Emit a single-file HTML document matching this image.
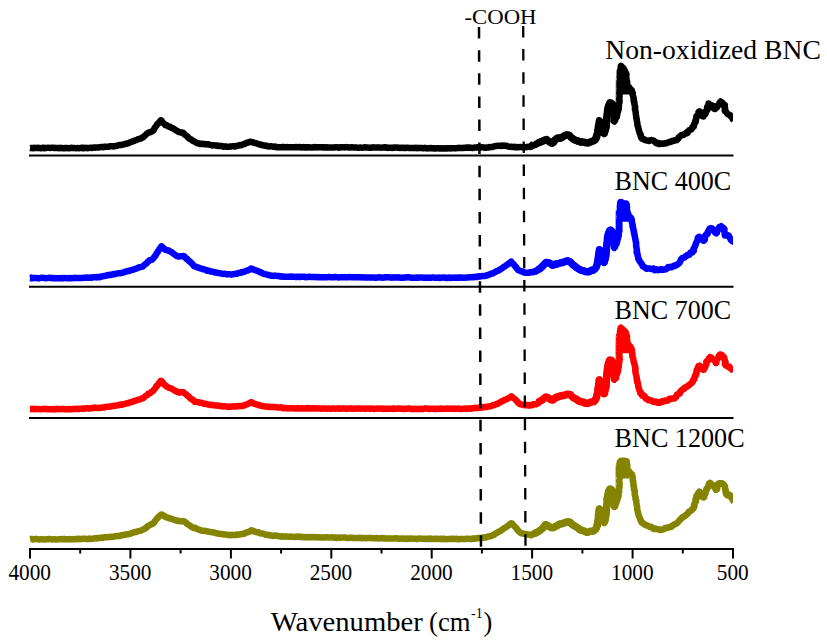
<!DOCTYPE html>
<html><head><meta charset="utf-8"><style>
html,body{margin:0;padding:0;background:#fff;width:827px;height:641px;overflow:hidden}
svg{display:block}
text{font-family:"Liberation Serif",serif;fill:#000}
</style></head><body>
<svg width="827" height="641" viewBox="0 0 827 641">
<defs>
<clipPath id="clip"><rect x="29.5" y="0" width="703.5" height="641"/></clipPath>
<clipPath id="clipfp"><rect x="536" y="0" width="80" height="641"/></clipPath>
</defs>
<rect width="827" height="641" fill="#fff"/>
<line x1="29" y1="155.6" x2="733.5" y2="155.6" stroke="#000" stroke-width="2"/>
<line x1="29" y1="286.8" x2="733.5" y2="286.8" stroke="#000" stroke-width="2"/>
<line x1="29" y1="417.9" x2="733.5" y2="417.9" stroke="#000" stroke-width="2"/>
<line x1="29" y1="549" x2="734" y2="549" stroke="#000" stroke-width="2"/>
<line x1="30.0" y1="548" x2="30.0" y2="558.5" stroke="#000" stroke-width="2"/>
<line x1="130.4" y1="548" x2="130.4" y2="558.5" stroke="#000" stroke-width="2"/>
<line x1="230.9" y1="548" x2="230.9" y2="558.5" stroke="#000" stroke-width="2"/>
<line x1="331.3" y1="548" x2="331.3" y2="558.5" stroke="#000" stroke-width="2"/>
<line x1="431.7" y1="548" x2="431.7" y2="558.5" stroke="#000" stroke-width="2"/>
<line x1="532.1" y1="548" x2="532.1" y2="558.5" stroke="#000" stroke-width="2"/>
<line x1="632.6" y1="548" x2="632.6" y2="558.5" stroke="#000" stroke-width="2"/>
<line x1="733.0" y1="548" x2="733.0" y2="558.5" stroke="#000" stroke-width="2"/>
<line x1="80.2" y1="548" x2="80.2" y2="553.5" stroke="#000" stroke-width="2"/>
<line x1="180.6" y1="548" x2="180.6" y2="553.5" stroke="#000" stroke-width="2"/>
<line x1="281.1" y1="548" x2="281.1" y2="553.5" stroke="#000" stroke-width="2"/>
<line x1="381.5" y1="548" x2="381.5" y2="553.5" stroke="#000" stroke-width="2"/>
<line x1="481.9" y1="548" x2="481.9" y2="553.5" stroke="#000" stroke-width="2"/>
<line x1="582.4" y1="548" x2="582.4" y2="553.5" stroke="#000" stroke-width="2"/>
<line x1="682.8" y1="548" x2="682.8" y2="553.5" stroke="#000" stroke-width="2"/>
<polygon points="619.6,94.5 619.6,76 620.4,68 621,66 623.2,68.4 625,71.5 626.3,74 626.6,80 627.5,85.5 630,88.5 630,94.5" fill="#000"/>
<polyline points="30.0,147.9 30.4,148.0 30.8,148.2 31.2,148.0 31.7,147.9 32.2,148.0 32.8,148.0 33.3,148.2 33.9,148.0 34.5,147.7 35.2,148.0 35.8,148.1 36.5,148.1 37.2,147.9 38.0,147.8 38.7,148.1 39.5,148.0 40.2,148.1 41.0,148.3 41.8,148.0 42.6,147.7 43.4,147.8 44.3,148.2 45.1,148.1 45.9,147.9 46.8,147.9 47.6,147.8 48.4,147.7 49.3,147.9 50.1,148.0 50.9,147.9 51.7,147.8 52.6,147.8 53.4,147.9 54.2,147.9 54.9,147.8 55.7,148.0 56.5,148.1 57.2,148.1 57.9,147.9 58.6,148.1 59.3,148.3 60.0,148.0 60.8,147.8 61.6,148.0 62.4,148.2 63.1,148.2 63.9,148.1 64.7,148.1 65.5,148.2 66.3,148.0 67.0,148.0 67.8,148.2 68.6,148.3 69.3,148.2 70.1,148.1 70.8,147.9 71.6,147.8 72.3,148.1 73.1,148.1 73.8,147.9 74.5,148.0 75.2,148.1 76.0,148.2 76.7,148.1 77.4,148.0 78.1,148.0 78.7,148.2 79.4,148.2 80.1,148.0 80.7,148.0 81.4,147.9 82.0,147.7 82.6,147.9 83.2,148.3 83.8,148.2 84.4,148.0 85.0,147.8 85.9,147.9 86.8,148.1 87.7,148.2 88.5,148.0 89.3,148.0 90.1,147.9 90.8,147.7 91.6,147.9 92.3,147.9 93.0,147.7 93.6,147.5 94.3,147.5 95.0,147.7 95.6,147.5 96.2,147.4 96.9,147.6 97.5,147.6 98.1,147.5 98.7,147.5 99.4,147.4 100.0,147.2 100.8,147.1 101.5,146.9 102.3,147.0 103.0,147.2 103.7,146.9 104.4,146.8 105.1,146.9 105.8,146.8 106.5,146.7 107.1,146.7 107.8,146.8 108.5,146.7 109.2,146.6 109.8,146.4 110.5,146.2 111.2,146.2 112.0,146.2 112.7,146.4 113.4,146.4 114.2,146.2 114.9,146.2 115.6,145.9 116.3,145.8 117.1,145.8 117.8,145.5 118.5,145.1 119.3,145.0 120.0,145.1 120.8,145.1 121.5,144.7 122.2,144.7 122.9,144.7 123.6,144.3 124.3,144.1 125.0,144.1 125.7,143.9 126.4,143.6 127.3,143.5 128.0,143.4 128.7,143.0 129.5,142.7 130.2,142.3 130.9,142.0 131.6,141.9 132.3,141.5 132.9,141.2 133.6,141.1 134.3,141.0 134.8,140.5 135.4,140.3 136.1,140.3 136.9,139.8 137.6,139.3 138.3,139.1 139.0,139.1 139.6,138.9 140.2,138.7 140.8,138.6 141.4,138.2 142.0,137.7 142.6,137.5 143.4,137.2 143.9,136.5 144.4,135.9 145.0,135.4 145.7,134.9 146.3,134.3 146.8,133.8 147.4,133.4 147.9,132.9 148.7,132.4 149.6,132.3 150.4,132.3 151.0,131.8 151.7,131.5 152.4,131.2 153.1,130.7 153.6,130.3 153.9,129.6 154.2,128.9 154.4,128.2 155.0,127.6 155.4,127.0 155.8,126.3 156.4,125.8 156.8,125.2 156.9,124.4 157.6,123.8 158.4,123.3 159.0,122.6 159.6,121.8 160.1,121.1 160.5,120.6 160.8,120.3 161.0,120.3 161.1,120.4 161.5,120.7 161.9,121.1 162.3,121.9 162.9,122.6 163.6,123.2 164.3,123.9 165.0,124.6 165.4,125.1 166.1,125.1 166.8,125.2 167.4,125.6 167.9,126.1 168.6,126.6 169.3,126.7 170.1,126.8 170.7,127.2 171.3,127.7 171.9,128.0 172.6,128.2 173.2,128.5 173.8,129.0 174.5,129.3 175.1,129.8 175.7,130.2 176.4,130.5 177.0,130.8 177.6,131.0 178.0,131.6 178.6,131.8 179.4,132.1 180.1,132.4 180.8,132.5 181.5,132.5 182.2,132.5 182.8,132.6 183.4,133.0 183.9,133.5 184.3,134.0 184.7,134.6 185.4,134.9 186.0,135.4 186.5,136.0 187.2,136.4 187.8,136.8 188.2,137.5 188.7,138.2 189.4,138.7 190.2,139.0 190.9,139.4 191.4,140.0 192.0,140.2 192.9,140.8 193.5,141.2 194.3,141.4 195.1,141.8 195.6,142.3 196.2,142.7 196.8,143.0 197.6,143.2 198.4,143.3 199.2,143.6 200.0,144.0 200.6,143.8 201.2,143.9 201.8,144.0 202.4,143.8 203.1,144.1 203.7,144.1 204.5,143.9 205.2,144.3 206.1,144.4 207.0,144.2 207.6,144.2 208.2,144.3 208.8,144.6 209.5,144.7 210.2,144.8 210.9,145.0 211.6,145.2 212.3,145.5 213.0,145.3 213.8,145.2 214.6,145.4 215.3,145.4 216.1,145.6 216.8,145.7 217.6,145.5 218.3,145.9 219.0,146.1 219.7,146.0 220.4,146.1 221.2,146.1 221.9,146.0 222.6,146.3 223.3,146.7 224.0,146.8 224.8,146.5 225.5,146.3 226.2,146.5 226.9,146.8 227.6,146.8 228.3,146.7 229.0,146.8 229.7,146.6 230.3,146.6 231.0,146.5 231.8,146.4 232.5,146.3 233.3,146.2 234.1,146.4 234.9,146.4 235.6,146.1 236.4,146.1 237.1,146.0 237.8,145.8 238.5,145.4 239.1,145.3 239.8,145.1 240.4,145.2 241.1,145.3 241.9,144.9 242.6,144.4 243.4,144.3 244.1,144.1 244.7,143.9 245.3,143.6 245.8,143.2 246.4,142.9 246.9,142.8 248.0,142.5 249.1,142.2 250.0,141.8 250.7,141.8 251.0,141.8 251.1,141.9 251.5,142.0 252.0,142.2 252.8,142.3 253.7,142.4 254.5,142.9 255.5,143.0 256.4,143.4 257.2,143.6 258.0,143.8 258.6,144.2 259.2,144.4 259.8,144.4 260.5,144.4 261.0,144.6 261.6,145.1 262.3,145.2 263.1,145.3 264.0,145.4 265.0,145.6 265.5,145.7 266.1,145.5 266.7,145.9 267.2,146.2 267.9,146.3 268.5,146.4 269.2,146.4 269.9,146.4 270.6,146.3 271.3,146.3 272.1,146.4 272.8,146.6 273.5,146.8 274.3,146.8 275.1,146.6 275.9,146.9 276.7,147.3 277.5,147.2 278.3,147.1 279.2,147.3 280.0,147.3 280.6,147.2 281.1,147.2 281.5,147.1 281.9,147.0 282.2,147.2 282.5,147.3 282.8,147.3 283.0,147.2 283.3,147.1 283.5,147.1 283.7,147.0 284.0,147.1 284.3,147.3 284.7,147.3 285.1,147.2 285.6,147.3 286.1,147.2 286.7,147.0 287.5,147.1 288.3,147.2 289.3,147.3 290.3,147.2 291.5,147.2 292.9,147.3 294.4,147.2 296.1,147.1 298.0,147.2 300.0,147.1 300.4,147.1 300.9,147.2 301.3,147.4 301.8,147.5 302.2,147.3 302.7,147.2 303.2,147.1 303.7,146.9 304.2,147.1 304.7,147.4 305.3,147.2 305.8,147.2 306.4,147.5 306.9,147.3 307.5,147.2 308.1,147.4 308.6,147.3 309.2,147.3 309.8,147.4 310.4,147.4 311.1,147.4 311.7,147.5 312.3,147.6 312.9,147.4 313.6,147.2 314.2,147.1 314.9,147.1 315.6,147.2 316.2,147.4 316.9,147.2 317.6,147.2 318.3,147.4 319.0,147.3 319.7,147.2 320.4,147.2 321.1,147.2 321.9,147.2 322.6,147.3 323.3,147.6 324.1,147.5 324.8,147.3 325.6,147.4 326.3,147.6 327.1,147.3 327.8,147.3 328.6,147.5 329.4,147.5 330.1,147.5 330.9,147.4 331.7,147.5 332.5,147.6 333.3,147.5 334.1,147.4 334.9,147.4 335.7,147.2 336.5,147.2 337.3,147.2 338.1,147.4 338.9,147.7 339.7,147.4 340.5,147.3 341.3,147.4 342.2,147.2 343.0,147.2 343.8,147.2 344.6,147.4 345.4,147.3 346.3,147.1 347.1,147.3 347.9,147.2 348.8,147.3 349.6,147.5 350.4,147.6 351.2,147.4 352.1,147.2 352.9,147.4 353.7,147.4 354.5,147.4 355.4,147.4 356.2,147.4 357.0,147.6 357.8,147.7 358.7,147.7 359.5,147.6 360.3,147.5 361.1,147.6 362.0,147.7 362.8,147.6 363.6,147.5 364.4,147.4 365.2,147.3 366.0,147.5 366.8,147.5 367.6,147.5 368.4,147.6 369.2,147.7 370.0,147.8 370.8,147.8 371.6,147.6 372.4,147.4 373.1,147.6 373.9,147.5 374.7,147.5 375.4,147.5 376.2,147.5 377.0,147.4 377.7,147.4 378.5,147.5 379.2,147.5 379.9,147.5 380.7,147.6 381.4,147.7 382.1,147.6 382.8,147.6 383.6,147.6 384.3,147.4 385.0,147.3 385.7,147.3 386.3,147.6 387.0,147.8 387.7,147.9 388.4,147.7 389.0,147.8 389.7,147.8 390.3,147.7 390.9,147.7 391.6,147.7 392.2,147.9 392.8,147.7 393.4,147.5 394.0,147.6 394.6,147.7 395.2,147.6 395.8,147.4 396.3,147.5 396.9,147.6 397.4,147.6 397.9,147.8 398.5,147.8 399.0,147.8 399.5,147.9 400.0,147.9 401.2,147.8 402.4,147.8 403.5,147.9 404.6,147.8 405.7,147.9 406.8,147.8 407.8,147.8 408.8,147.9 409.8,148.0 410.7,148.1 411.6,148.1 412.5,148.1 413.4,148.1 414.2,148.0 415.1,147.9 415.9,147.8 416.6,147.9 417.4,148.2 418.1,148.1 418.9,147.9 419.6,148.0 420.3,148.1 420.9,148.0 421.6,147.9 422.2,147.9 422.9,148.2 423.5,148.2 424.1,148.0 424.7,148.1 425.3,148.0 425.8,148.0 426.4,148.3 426.9,148.4 427.5,148.2 428.0,148.3 428.6,148.3 429.1,148.2 429.6,148.1 430.2,148.3 430.7,148.3 431.2,148.1 431.7,148.3 432.2,148.4 432.8,148.3 433.3,148.3 433.8,148.4 434.3,148.3 434.9,148.3 435.4,148.5 436.0,148.6 436.5,148.4 437.1,148.3 437.6,148.3 438.2,148.3 438.8,148.3 439.4,148.4 440.0,148.6 440.8,148.5 441.7,148.2 442.5,148.5 443.3,148.6 444.2,148.6 445.0,148.3 445.8,148.3 446.6,148.5 447.5,148.3 448.3,148.2 449.1,148.4 449.9,148.5 450.7,148.3 451.5,148.2 452.3,148.2 453.1,148.3 453.8,148.3 454.6,148.3 455.4,148.4 456.1,148.3 456.9,148.1 457.6,148.0 458.3,148.0 459.1,147.8 459.8,148.0 460.5,148.0 461.2,148.0 461.9,148.0 462.5,147.9 463.2,148.1 463.8,147.9 464.4,147.7 465.1,147.7 465.7,147.8 466.3,147.7 466.8,147.5 467.4,147.5 468.0,147.6 468.5,147.9 469.0,147.8 469.5,147.5 470.0,147.6 471.3,147.8 472.5,147.9 473.5,147.8 474.4,147.6 475.1,147.6 475.8,147.5 476.4,147.4 476.9,147.4 477.4,147.3 477.9,147.4 478.3,147.4 478.8,147.3 479.4,147.2 480.0,147.4 480.8,147.5 481.6,147.4 482.3,147.3 483.1,147.4 483.8,147.5 484.5,147.4 485.2,147.7 485.9,147.8 486.6,147.5 487.3,147.4 488.0,147.6 488.7,147.4 489.4,147.1 490.1,147.1 490.9,147.2 491.6,147.0 492.3,146.9 493.0,146.9 493.6,146.5 494.3,146.4 495.0,146.3 495.7,145.9 496.4,146.0 497.1,145.9 497.8,145.8 498.5,145.7 499.2,145.7 499.9,145.9 500.6,146.0 501.3,145.7 502.0,145.4 502.8,145.7 503.5,145.7 504.2,145.6 504.9,145.7 505.6,145.7 506.4,145.8 507.1,146.1 507.8,146.4 508.5,146.6 509.2,146.7 510.0,146.8 510.7,146.7 511.4,146.8 512.1,147.1 512.9,147.1 513.6,146.9 514.3,146.8 515.0,147.1 515.7,147.3 516.5,147.1 517.2,147.1 517.9,147.2 518.6,147.2 519.3,147.1 520.0,147.0 520.8,147.1 521.5,147.1 522.2,147.2 523.0,147.3 523.7,147.2 524.5,147.3 525.2,147.3 525.9,147.2 526.6,147.1 527.2,146.9 528.0,146.9 528.7,146.7 529.4,146.5 530.3,147.0 530.9,146.8 531.4,145.9 531.9,145.0 532.8,145.5 533.6,145.5 534.1,144.9 535.0,145.0 535.5,144.4 536.1,143.7 536.9,143.7 537.4,143.0 538.1,142.7 538.9,142.8 539.7,142.9 540.0,142.1 540.8,141.4 541.6,141.2 542.3,141.2 542.9,140.9 543.3,140.1 544.1,140.0 545.1,140.1 545.8,139.8 546.6,139.2 547.1,139.9 547.3,140.8 547.8,141.3 548.7,141.5 549.5,141.6 550.3,142.1 550.9,142.7 551.6,143.1 552.2,142.9 552.9,143.0 553.8,142.7 554.2,141.9 554.0,140.8 554.5,140.1 555.3,139.8 556.2,139.4 557.0,139.1 557.6,138.6 558.2,138.4 558.8,138.0 559.5,138.3 560.3,138.6 561.0,138.0 561.5,137.1 562.3,136.7 563.2,136.5 563.8,135.8 564.5,135.3 565.4,135.3 566.0,134.8 566.8,134.8 567.6,135.2 568.3,134.9 569.2,134.9 569.7,135.4 570.3,136.0 570.6,136.8 571.0,137.6 571.7,137.9 572.5,138.2 572.8,138.9 573.3,139.5 574.2,139.4 575.0,139.5 575.5,140.3 576.1,140.8 576.9,140.9 577.5,141.5 578.2,141.8 579.0,141.9 579.7,142.1 580.5,142.5 581.3,142.5 582.1,142.0 582.9,141.8 583.6,142.2 584.3,142.7 584.9,143.0 585.7,142.9 586.4,143.1 587.2,143.0 587.9,143.2 588.8,143.2 589.4,142.5 590.0,142.0 590.9,142.2 591.7,142.0 592.2,141.1 592.8,140.6 593.6,140.7 594.5,140.6 595.2,140.2 595.6,139.4 595.7,138.3 596.4,138.0 596.3,137.3 595.9,136.5 596.6,136.0 596.9,135.3 596.7,134.4 596.9,133.7 597.5,133.0 597.9,132.4 597.5,131.6 597.2,130.8 598.0,130.2 598.6,129.5 598.1,128.7 598.4,128.0 598.3,127.3 598.0,126.6 598.8,126.0 599.2,125.1 598.9,124.1 599.2,123.1 599.6,122.3 599.7,121.5 600.0,121.1 599.3,121.1 599.4,121.0 599.4,121.6 599.4,122.4 599.4,123.4 599.9,124.3 600.1,125.1 600.1,125.8 600.7,126.4 601.6,127.0 601.4,127.8 601.1,128.7 601.5,129.3 602.0,129.9 602.3,130.5 602.4,131.5 602.7,132.5 603.4,133.1 604.3,133.1 604.2,133.4 604.5,133.5 604.1,132.9 604.2,132.4 604.8,131.9 604.8,131.0 604.6,129.9 605.1,129.0 606.0,128.0 606.4,127.5 606.6,126.9 606.5,126.2 606.2,125.5 606.3,124.8 606.3,124.0 606.4,123.2 606.7,122.5 607.2,121.7 606.9,120.9 606.6,120.1 606.6,119.3 606.4,118.5 606.6,117.8 607.0,117.1 607.1,116.4 607.5,115.8 607.2,114.9 607.0,114.0 607.8,113.3 608.0,112.5 607.7,111.7 607.4,111.0 607.4,110.3 608.0,109.7 608.5,109.1 608.4,108.5 608.5,107.9 609.0,107.1 609.2,106.1 609.1,105.0 609.2,104.0 609.8,103.5 610.0,103.0 609.9,102.9 610.5,103.1 611.6,103.2 612.2,103.9 612.9,104.7 613.2,105.1 613.0,105.4 613.4,105.8 613.7,106.3 613.6,107.1 613.1,108.1 612.9,109.1 613.6,110.0 613.3,111.0 613.5,112.0 614.0,112.8 613.7,113.6 613.6,114.5 614.0,115.4 614.0,116.4 614.0,117.4 614.2,118.4 614.2,119.2 614.1,120.0 613.9,120.6 614.8,120.9 614.2,120.4 614.8,120.8 615.2,120.3 614.8,119.1 615.2,118.2 616.0,117.4 616.8,117.0 616.9,116.3 616.9,115.6 617.2,114.9 617.2,114.0 617.3,113.2 617.8,112.4 618.0,111.5 618.0,110.9 618.0,110.4 618.3,109.9 618.7,109.5 618.5,108.9 618.5,108.3 618.8,107.7 618.9,107.0 618.9,106.2 618.9,105.3 619.0,104.2 619.2,103.0 619.4,102.5 619.6,101.9 619.6,101.4 619.6,100.7 619.3,100.1 619.2,99.4 619.5,98.7 619.4,98.0 619.4,97.2 619.6,96.4 619.5,95.7 619.5,94.9 619.5,94.1 619.3,93.2 619.6,92.4 619.5,91.6 619.4,90.8 619.5,89.9 619.6,89.1 619.9,88.3 619.6,87.5 619.4,86.7 619.7,85.9 619.7,85.2 619.4,84.4 619.5,83.7 619.6,83.0 619.5,82.4 619.4,81.7 619.6,81.1 619.8,80.5 619.8,80.0 620.0,78.9 619.8,77.8 619.6,76.9 619.7,76.0 619.9,75.2 620.1,74.5 619.9,73.8 619.7,73.2 620.0,72.6 620.1,72.0 619.9,71.5 619.8,71.0 620.1,70.5 620.3,70.0 620.6,68.7 620.8,67.6 620.8,66.8 620.8,66.2 621.0,65.8 621.3,66.1 621.9,66.8 622.6,67.5 623.4,68.1 623.7,68.7 624.0,69.4 624.4,70.0 624.7,70.7 625.1,71.3 625.3,71.9 625.5,72.6 625.9,73.1 626.4,74.0 626.5,74.6 626.3,75.3 626.3,76.0 626.2,76.8 626.2,77.7 626.4,78.5 626.6,79.2 626.7,80.0 626.9,80.8 627.1,81.7 627.1,82.5 627.2,83.3 627.3,84.1 627.2,84.9 627.4,85.5 627.8,86.3 628.4,86.8 629.1,87.2 629.6,87.8 629.9,88.6 630.4,89.2 631.1,89.7 631.8,90.3 632.1,91.1 632.2,92.0 632.5,92.6 632.8,93.1 632.7,93.8 632.5,94.5 632.8,95.3 633.1,96.1 633.2,97.0 633.5,97.5 633.6,98.1 633.7,98.7 633.8,99.4 633.7,100.1 633.6,100.8 634.0,101.5 634.4,102.2 634.2,102.9 634.3,103.7 634.6,104.4 634.6,105.2 634.9,106.0 635.1,106.6 635.1,107.3 635.1,108.0 634.9,108.8 634.9,109.5 635.3,110.2 635.4,110.9 635.5,111.7 635.7,112.4 635.8,113.2 635.8,113.9 635.9,114.7 636.1,115.5 636.1,116.3 636.2,117.0 636.3,117.7 636.4,118.4 636.6,119.2 636.8,119.9 636.8,120.7 637.0,121.4 637.1,122.2 637.3,122.9 637.4,123.7 637.4,124.5 637.4,125.2 637.7,125.9 638.1,126.6 638.2,127.3 638.3,128.0 638.6,128.6 638.6,129.3 638.7,130.1 639.0,130.9 639.3,131.6 639.4,132.4 639.6,133.1 639.9,133.8 640.5,134.3 640.8,134.9 640.6,135.7 640.7,136.4 641.1,136.9 641.2,137.5 641.4,138.1 642.1,138.7 643.1,138.8 643.9,138.9 644.2,139.7 645.0,139.8 645.6,140.2 646.2,140.4 646.9,140.5 647.6,140.7 648.4,140.6 649.2,141.0 649.8,140.4 650.6,140.3 651.3,140.0 652.0,140.1 652.5,140.5 653.3,140.5 654.0,140.8 654.5,141.4 655.1,142.0 655.7,142.4 656.2,143.2 657.1,143.5 657.9,142.9 658.4,143.3 659.1,144.1 659.8,143.9 660.5,143.4 661.3,143.4 662.1,143.8 662.8,143.7 663.6,143.5 664.4,143.6 665.1,143.2 665.8,143.4 666.6,143.3 667.3,142.9 667.9,142.5 668.6,142.2 669.4,142.0 670.2,142.1 670.9,141.8 671.4,141.1 672.1,141.0 672.8,140.8 673.6,140.9 674.2,140.8 674.8,140.2 675.8,140.3 676.8,140.3 677.2,139.5 677.7,138.9 678.4,138.5 678.6,137.6 679.2,137.1 679.7,136.7 680.2,136.1 680.9,135.7 681.5,135.0 682.4,134.9 683.4,135.1 683.9,134.4 684.6,134.0 685.3,133.7 685.8,133.1 686.7,133.3 687.5,132.9 687.7,131.7 688.1,131.0 688.8,130.8 689.3,130.2 690.1,130.1 690.7,129.7 691.2,129.2 691.8,128.9 692.2,128.3 692.3,127.4 692.8,126.9 693.8,126.6 693.7,125.8 693.7,125.1 694.3,124.5 694.3,123.6 694.7,122.9 695.6,122.2 695.2,121.4 695.4,120.7 695.9,120.1 696.1,119.3 696.1,118.5 696.3,117.7 696.5,117.0 696.4,116.2 697.3,115.7 697.8,115.2 697.9,114.7 698.2,113.5 698.4,112.5 698.9,111.8 699.5,111.4 699.4,111.5 699.6,111.3 700.2,111.6 700.4,112.6 700.9,113.5 701.3,114.7 701.7,115.7 702.8,116.1 703.5,116.4 703.4,116.3 702.7,116.3 702.9,115.8 703.4,115.3 704.4,114.8 705.3,114.1 705.8,113.1 705.9,112.0 705.6,111.2 706.4,110.7 707.3,110.1 707.6,109.2 707.2,108.0 707.1,107.0 707.9,106.3 708.5,105.6 708.9,105.1 708.9,104.5 708.6,104.0 708.6,103.4 709.1,103.8 709.7,104.8 710.5,105.2 711.5,105.4 712.3,105.5 713.2,105.9 713.5,106.9 713.6,108.1 713.9,108.8 714.8,108.9 715.0,108.8 715.2,108.9 715.4,108.3 716.1,107.8 717.0,107.3 717.5,106.5 717.8,105.7 718.2,105.1 718.8,104.4 719.2,103.6 719.5,102.7 720.2,102.3 720.4,101.8 720.6,101.5 720.8,101.8 721.5,102.1 722.2,102.7 723.0,103.3 723.4,104.2 723.8,104.7 724.8,105.1 724.4,106.1 724.3,106.9 725.0,107.7 725.1,108.5 725.0,109.3 724.7,110.2 725.0,111.1 725.9,111.6 726.4,112.2 726.7,112.9 727.1,113.5 727.6,113.9 728.3,114.2 728.8,114.4 729.4,114.8 730.2,115.2 730.4,115.9 730.9,116.5 731.9,116.7 732.3,117.4 732.5,118.4 732.8,119.1 733.4,119.4 733.8,119.7" fill="none" stroke="#000" stroke-width="6.5" stroke-linejoin="round" clip-path="url(#clip)"/>
<path d="M30.00,148.00 C35.00,148.00 50.83,148.00 60.00,148.00 C69.17,148.00 78.33,148.13 85.00,148.00 C91.67,147.87 95.50,147.48 100.00,147.20 C104.50,146.92 107.83,146.80 112.00,146.30 C116.17,145.80 121.00,145.22 125.00,144.20 C129.00,143.18 133.17,141.27 136.00,140.20 C138.83,139.13 140.00,139.00 142.00,137.80 C144.00,136.60 146.17,134.20 148.00,133.00 C149.83,131.80 151.50,132.02 153.00,130.60 C154.50,129.18 155.67,126.22 157.00,124.50 C158.33,122.78 161.00,120.30 161.00,120.30 C161.00,120.30 163.07,123.20 165.00,124.50 C166.93,125.80 170.33,126.88 172.60,128.10 C174.87,129.32 176.80,130.98 178.60,131.80 C180.40,132.62 182.00,132.20 183.40,133.00 C184.80,133.80 185.57,135.40 187.00,136.60 C188.43,137.80 190.67,139.30 192.00,140.20 C193.33,141.10 193.67,141.40 195.00,142.00 C196.33,142.60 198.00,143.40 200.00,143.80 C202.00,144.20 203.83,144.03 207.00,144.40 C210.17,144.77 215.00,145.63 219.00,146.00 C223.00,146.37 227.33,146.77 231.00,146.60 C234.67,146.43 238.33,145.60 241.00,145.00 C243.67,144.40 245.33,143.53 247.00,143.00 C248.67,142.47 251.00,141.80 251.00,141.80 C251.00,141.80 255.67,143.17 258.00,143.80 C260.33,144.43 261.33,145.03 265.00,145.60 C268.67,146.17 274.17,146.93 280.00,147.20 C285.83,147.47 280.00,147.12 300.00,147.20 C320.00,147.28 376.67,147.50 400.00,147.70 C423.33,147.90 428.33,148.40 440.00,148.40 C451.67,148.40 463.33,147.87 470.00,147.70 C476.67,147.53 477.00,147.45 480.00,147.40 C483.00,147.35 485.38,147.60 488.00,147.40 C490.62,147.20 493.23,146.48 495.70,146.20 C498.17,145.92 500.18,145.60 502.80,145.70 C505.42,145.80 508.65,146.55 511.40,146.80 C514.15,147.05 516.67,147.18 519.30,147.20 C521.93,147.22 524.83,147.22 527.20,146.90 C529.57,146.58 531.37,146.08 533.50,145.30 C535.63,144.52 538.32,142.95 540.00,142.20 C541.68,141.45 542.52,141.22 543.60,140.80 C544.68,140.38 545.53,139.53 546.50,139.70 C547.47,139.87 548.43,141.22 549.40,141.80 C550.37,142.38 551.33,143.55 552.30,143.20 C553.27,142.85 554.23,140.58 555.20,139.70 C556.17,138.82 557.13,138.20 558.10,137.90 C559.07,137.60 560.02,138.20 561.00,137.90 C561.98,137.60 563.03,136.60 564.00,136.10 C564.97,135.60 565.97,135.05 566.80,134.90 C567.63,134.75 568.27,134.78 569.00,135.20 C569.73,135.62 570.35,136.65 571.20,137.40 C572.05,138.15 573.02,139.13 574.10,139.70 C575.18,140.27 576.48,140.43 577.70,140.80 C578.92,141.17 580.18,141.65 581.40,141.90 C582.62,142.15 583.92,142.13 585.00,142.30 C586.08,142.47 586.93,142.98 587.90,142.90 C588.87,142.82 589.83,142.15 590.80,141.80 C591.77,141.45 592.83,141.35 593.70,140.80 C594.57,140.25 595.35,139.80 596.00,138.50 C596.65,137.20 597.17,135.08 597.60,133.00 C598.03,130.92 598.30,128.03 598.60,126.00 C598.90,123.97 599.40,120.80 599.40,120.80 C599.40,120.80 600.13,123.38 600.60,125.00 C601.07,126.62 601.60,129.08 602.20,130.50 C602.80,131.92 604.20,133.50 604.20,133.50 C604.20,133.50 605.33,130.95 605.80,128.00 C606.27,125.05 606.63,119.17 607.00,115.80 C607.37,112.43 607.52,109.97 608.00,107.80 C608.48,105.63 609.90,102.80 609.90,102.80 C609.90,102.80 611.02,102.88 611.50,103.30 C611.98,103.72 612.80,105.30 612.80,105.30 C612.80,105.30 613.50,110.18 613.80,112.80 C614.10,115.42 614.60,121.00 614.60,121.00 C614.60,121.00 615.67,119.08 616.20,117.50 C616.73,115.92 617.28,113.92 617.80,111.50 C618.32,109.08 619.00,108.25 619.30,103.00 C619.60,97.75 619.45,85.50 619.60,80.00 C619.75,74.50 619.97,72.33 620.20,70.00 C620.43,67.67 621.00,66.00 621.00,66.00 C621.00,66.00 622.53,67.32 623.20,68.20 C623.87,69.08 624.50,70.33 625.00,71.30 C625.50,72.27 625.93,72.55 626.20,74.00 C626.47,75.45 626.38,78.08 626.60,80.00 C626.82,81.92 626.93,84.08 627.50,85.50 C628.07,86.92 629.22,87.42 630.00,88.50 C630.78,89.58 631.67,90.58 632.20,92.00 C632.73,93.42 632.80,94.67 633.20,97.00 C633.60,99.33 634.07,102.67 634.60,106.00 C635.13,109.33 635.75,113.12 636.40,117.00 C637.05,120.88 637.60,125.83 638.50,129.30 C639.40,132.77 640.40,135.93 641.80,137.80 C643.20,139.67 645.20,140.12 646.90,140.50 C648.60,140.88 650.28,139.67 652.00,140.10 C653.72,140.53 654.90,142.60 657.20,143.10 C659.50,143.60 662.95,143.47 665.80,143.10 C668.65,142.73 671.88,142.05 674.30,140.90 C676.72,139.75 678.28,137.55 680.30,136.20 C682.32,134.85 684.78,133.83 686.40,132.80 C688.02,131.77 688.90,130.97 690.00,130.00 C691.10,129.03 692.17,128.33 693.00,127.00 C693.83,125.67 694.25,124.08 695.00,122.00 C695.75,119.92 696.77,116.32 697.50,114.50 C698.23,112.68 699.40,111.10 699.40,111.10 C699.40,111.10 703.30,116.80 703.30,116.80 C703.30,116.80 704.90,114.15 705.80,112.00 C706.70,109.85 708.70,103.90 708.70,103.90 C708.70,103.90 710.75,104.15 711.80,105.00 C712.85,105.85 715.00,109.00 715.00,109.00 C715.00,109.00 716.57,106.72 717.50,105.50 C718.43,104.28 720.60,101.70 720.60,101.70 C720.60,101.70 722.93,102.62 723.70,104.00 C724.47,105.38 724.57,108.33 725.20,110.00 C725.83,111.67 726.70,113.08 727.50,114.00 C728.30,114.92 728.92,114.58 730.00,115.50 C731.08,116.42 733.33,118.83 734.00,119.50" fill="none" stroke="#000" stroke-width="7.4" stroke-linejoin="round" clip-path="url(#clipfp)"/>
<polygon points="619.4,221.8 619.4,208 620.9,202 626.2,203.5 627.2,208 627.5,213 629.5,216.5 629.5,221.8" fill="#0000ff"/>
<polyline points="30.0,278.2 30.4,278.3 30.8,278.0 31.2,277.7 31.6,278.0 32.1,278.2 32.6,278.1 33.1,278.0 33.6,278.0 34.2,278.1 34.8,278.1 35.4,277.9 36.0,277.9 36.7,278.0 37.3,278.1 38.0,278.3 38.7,278.4 39.4,278.2 40.1,278.0 40.8,277.9 41.6,277.8 42.3,277.7 43.1,277.9 43.9,278.0 44.7,277.9 45.5,278.1 46.3,278.2 47.1,278.1 47.9,278.0 48.7,277.8 49.6,277.8 50.4,277.9 51.2,277.9 52.1,278.2 52.9,278.3 53.7,278.0 54.6,278.1 55.4,278.3 56.2,278.2 57.1,278.3 57.9,278.3 58.7,278.3 59.5,278.1 60.3,278.2 61.2,278.4 62.0,278.1 62.7,278.0 63.5,278.2 64.3,278.1 65.0,278.0 65.8,278.1 66.5,278.2 67.2,278.2 68.0,278.2 68.6,278.1 69.3,278.1 70.0,278.3 70.6,278.1 71.2,278.0 71.9,278.2 72.4,278.2 73.0,278.1 74.0,277.9 74.9,277.8 75.8,278.0 76.8,277.9 77.7,277.9 78.6,278.0 79.4,277.9 80.3,277.9 81.2,277.9 82.0,278.0 82.8,277.9 83.6,277.8 84.4,277.8 85.2,277.8 85.9,277.7 86.7,277.5 87.4,277.5 88.1,277.8 88.8,277.8 89.5,277.4 90.2,277.5 90.8,277.7 91.5,277.7 92.1,277.5 92.6,277.4 93.2,277.3 93.8,277.3 94.3,277.3 94.8,277.1 95.3,277.3 95.8,277.3 96.2,277.1 96.7,277.4 97.1,277.3 97.5,277.0 99.7,277.2 99.5,277.2 100.0,276.9 100.5,276.7 101.1,276.5 101.8,276.4 102.7,276.3 103.5,276.1 104.4,276.1 105.2,275.9 106.1,275.6 106.9,275.4 107.7,275.1 108.5,275.2 109.1,275.1 109.6,274.8 110.6,274.8 110.7,274.9 112.0,274.5 112.5,274.6 113.0,274.6 113.5,274.1 114.2,274.1 114.9,274.1 115.6,274.1 116.3,273.8 117.1,273.5 117.8,273.3 118.7,273.2 119.5,273.2 120.4,273.2 121.2,273.0 122.0,272.9 122.8,272.7 123.5,272.5 124.2,272.2 124.9,271.8 125.6,271.7 126.4,271.5 127.1,271.1 127.9,271.0 128.7,271.1 129.4,270.7 130.2,270.4 130.9,270.3 131.7,270.1 132.4,269.8 133.1,269.7 133.8,269.6 134.4,269.2 135.1,269.1 135.7,268.7 136.3,268.6 137.1,268.3 137.8,267.9 138.6,267.6 139.3,267.4 139.9,267.1 140.6,267.0 141.3,266.9 141.9,266.8 142.5,266.6 143.1,266.3 143.5,265.8 144.1,265.2 144.7,264.7 145.3,264.3 145.9,263.8 146.5,263.4 147.0,262.9 147.4,262.3 147.8,261.7 148.4,261.4 149.0,260.8 149.6,260.3 150.4,260.2 151.1,260.0 151.8,259.7 152.5,259.3 153.0,258.5 153.4,258.1 153.8,257.6 154.3,257.0 154.8,256.4 155.3,255.8 155.6,255.0 156.1,254.4 156.4,253.7 156.9,253.0 157.5,252.5 157.8,251.9 158.0,251.2 158.6,250.4 159.2,249.6 159.7,248.7 160.2,247.9 160.9,247.3 161.2,246.7 161.4,246.3 161.7,246.3 161.8,246.5 162.4,246.9 162.9,247.7 163.6,248.5 164.6,249.0 165.2,249.7 165.9,250.0 166.6,249.9 167.2,250.2 167.8,250.4 168.6,250.5 169.3,251.0 170.0,251.6 170.7,251.6 171.3,251.9 171.8,252.5 172.4,252.9 173.1,253.3 173.7,253.9 174.4,254.3 175.1,254.7 175.7,255.2 176.2,255.7 176.8,256.0 177.4,256.1 178.2,256.4 179.0,256.4 179.8,256.4 180.6,256.3 181.4,256.3 182.1,256.2 182.8,255.9 183.5,255.9 184.2,256.2 184.7,256.8 185.2,257.4 185.6,258.0 186.2,258.6 187.1,258.9 187.6,259.4 187.9,260.0 188.5,260.6 189.1,261.0 189.8,261.5 190.4,262.0 190.8,262.6 191.4,263.1 191.9,263.4 192.5,264.1 192.9,264.7 193.3,265.3 193.7,265.8 194.2,266.2 195.0,266.4 195.7,266.6 196.3,266.9 196.9,267.1 197.6,267.3 198.4,267.6 199.1,268.0 199.9,268.3 200.6,268.4 201.2,268.5 201.9,268.6 202.4,269.1 203.0,269.2 203.8,269.3 204.5,269.5 205.3,269.6 206.1,270.1 206.9,270.7 207.5,270.8 208.2,270.6 208.9,270.7 209.5,270.9 210.2,271.2 210.8,271.5 211.6,271.6 212.3,271.7 213.1,271.8 213.8,272.0 214.5,272.4 215.3,272.6 216.1,272.5 216.8,272.6 217.5,272.9 218.3,273.0 219.0,273.2 219.7,273.3 220.4,273.4 221.1,273.5 221.8,273.7 222.5,273.9 223.2,273.9 223.9,273.8 224.6,273.8 225.3,273.9 226.0,274.0 226.7,274.4 227.4,274.3 228.2,274.2 228.9,274.3 229.6,274.3 230.3,274.4 231.0,274.5 231.7,274.5 232.4,274.3 233.1,274.3 233.8,274.1 234.5,273.9 235.3,273.9 236.0,273.8 236.8,273.7 237.5,273.4 238.2,273.1 238.9,273.0 239.6,272.8 240.3,272.9 241.0,272.7 241.6,272.2 242.2,272.0 242.8,272.0 243.5,272.0 244.3,271.7 245.2,271.4 246.0,270.8 246.9,270.5 247.9,270.4 248.6,270.0 249.4,269.7 250.0,269.5 250.5,269.0 250.8,268.7 251.2,268.8 251.2,268.6 251.3,268.6 251.6,268.9 252.2,268.9 252.8,269.2 253.5,269.5 254.4,269.7 255.2,270.2 256.2,270.4 257.1,270.8 257.9,271.2 258.5,271.3 259.1,271.7 259.7,272.0 260.5,272.0 261.1,272.4 261.7,272.9 262.4,273.3 263.1,273.6 263.8,273.8 264.6,274.0 265.3,274.2 266.1,274.4 266.9,274.6 267.6,274.7 268.3,274.7 268.9,275.1 269.5,275.3 270.2,275.4 270.8,275.7 271.5,275.6 272.2,275.7 272.9,275.9 273.6,276.0 274.3,275.8 275.0,275.6 275.8,275.8 276.5,275.9 277.3,276.0 278.0,275.9 278.8,276.0 279.6,276.4 280.1,276.4 280.6,276.2 280.9,276.3 281.2,276.3 281.3,276.5 281.5,276.5 281.6,276.4 281.7,276.5 281.9,276.5 282.0,276.7 282.3,276.5 282.6,276.5 283.1,276.6 283.6,276.6 284.3,276.8 285.2,276.8 286.2,276.7 287.5,276.8 289.0,276.7 290.7,276.6 292.7,276.8 295.0,276.8 295.4,276.9 295.8,277.0 296.3,277.0 296.7,276.8 297.2,276.7 297.6,276.7 298.1,276.7 298.6,276.7 299.1,276.9 299.6,276.9 300.1,276.8 300.6,276.9 301.1,276.8 301.7,276.8 302.2,276.7 302.8,276.7 303.3,276.8 303.9,276.8 304.5,276.8 305.0,277.0 305.6,277.2 306.2,277.0 306.8,277.0 307.4,277.1 308.1,277.0 308.7,276.7 309.3,276.7 309.9,276.8 310.6,276.9 311.2,277.0 311.9,276.9 312.6,277.0 313.2,277.0 313.9,277.0 314.6,277.2 315.3,277.0 316.0,277.1 316.7,277.1 317.4,277.1 318.1,277.3 318.8,277.2 319.5,277.1 320.2,277.3 320.9,277.3 321.7,277.2 322.4,277.3 323.1,277.4 323.9,277.3 324.6,277.3 325.4,277.2 326.1,277.1 326.9,277.2 327.7,277.1 328.4,277.0 329.2,277.0 330.0,277.2 330.7,277.2 331.5,277.1 332.3,277.3 333.1,277.2 333.8,277.2 334.6,277.2 335.4,276.9 336.2,277.0 337.0,277.1 337.8,277.3 338.6,277.5 339.4,277.4 340.2,277.3 341.0,277.2 341.8,277.1 342.6,277.2 343.4,277.3 344.2,277.1 345.0,277.2 345.8,277.2 346.6,277.1 347.4,277.3 348.2,277.3 349.0,277.0 349.8,277.0 350.6,277.1 351.4,277.2 352.2,277.2 353.0,277.2 353.8,277.2 354.6,277.1 355.4,277.3 356.2,277.3 357.0,277.2 357.8,277.4 358.6,277.3 359.4,277.1 360.2,277.3 361.0,277.4 361.8,277.4 362.6,277.3 363.3,277.2 364.1,277.5 364.9,277.4 365.7,277.4 366.4,277.5 367.2,277.4 368.0,277.5 368.7,277.5 369.5,277.4 370.3,277.4 371.0,277.4 371.8,277.5 372.5,277.6 373.2,277.5 374.0,277.5 374.7,277.6 375.4,277.8 376.2,277.7 376.9,277.5 377.6,277.4 378.3,277.4 379.0,277.3 379.7,277.2 380.4,277.5 381.1,277.5 381.8,277.5 382.4,277.7 383.1,277.7 383.8,277.5 384.4,277.3 385.1,277.5 385.7,277.4 386.4,277.2 387.0,277.3 387.8,277.3 388.6,277.3 389.4,277.4 390.2,277.4 391.0,277.5 391.8,277.7 392.6,277.4 393.4,277.5 394.2,277.6 395.0,277.4 395.8,277.6 396.6,277.4 397.4,277.4 398.2,277.4 399.0,277.3 399.8,277.6 400.6,277.8 401.4,277.7 402.2,277.6 403.0,277.8 403.8,277.6 404.6,277.5 405.4,277.5 406.2,277.3 407.0,277.3 407.8,277.4 408.6,277.3 409.4,277.3 410.2,277.5 411.0,277.6 411.8,277.8 412.6,277.9 413.4,277.8 414.2,277.7 415.0,277.8 415.8,277.7 416.5,277.4 417.3,277.6 418.1,277.8 418.9,277.6 419.6,277.5 420.4,277.5 421.2,277.6 422.0,277.6 422.7,277.6 423.5,277.7 424.2,277.9 425.0,277.8 425.8,277.7 426.5,277.6 427.3,277.7 428.0,277.9 428.7,277.7 429.5,277.6 430.2,277.8 430.9,277.8 431.7,277.6 432.4,277.5 433.1,277.6 433.8,277.5 434.5,277.6 435.2,277.8 435.9,277.8 436.6,277.8 437.3,277.8 438.0,277.7 438.7,277.5 439.4,277.6 440.1,277.9 440.7,277.9 441.4,277.8 442.1,277.6 442.7,277.4 443.4,277.4 444.0,277.6 444.7,277.7 445.3,277.6 445.9,277.7 446.5,278.0 447.2,278.0 447.8,277.8 448.4,277.6 449.0,277.5 449.6,277.7 450.2,277.9 450.7,277.7 451.3,277.7 451.9,277.8 452.4,277.7 453.0,277.6 453.5,277.7 454.1,277.7 454.6,277.7 455.1,277.6 455.7,277.6 456.2,277.6 456.7,277.7 457.2,277.7 457.7,277.5 458.1,277.6 458.6,277.6 459.1,277.6 459.6,277.8 460.0,277.6 461.6,277.6 463.1,277.7 464.5,277.7 465.7,277.6 466.9,277.4 468.0,277.4 469.0,277.3 469.9,277.3 470.8,277.1 471.5,277.2 472.3,277.1 472.9,277.1 473.5,277.2 474.1,277.0 474.6,276.9 475.0,276.9 475.5,277.1 475.9,276.9 476.3,276.8 476.7,276.9 477.1,276.9 477.5,276.9 477.9,276.6 478.2,276.4 478.6,276.6 479.1,276.5 479.5,276.2 480.0,276.4 481.2,276.3 482.2,276.0 483.0,276.0 483.7,275.9 484.4,275.9 485.0,275.9 485.5,275.7 486.1,275.6 486.7,275.6 487.2,275.2 487.9,275.0 488.5,274.8 489.1,274.4 489.8,274.3 490.5,274.2 491.1,273.7 491.7,273.5 492.5,273.5 493.2,273.2 493.8,272.7 494.4,272.4 495.2,272.2 495.7,271.7 496.3,271.2 497.1,271.1 497.9,270.9 498.5,270.3 499.2,269.8 500.0,269.7 500.6,269.2 501.3,268.8 501.9,268.4 502.5,267.9 503.0,267.5 503.5,267.1 504.3,266.7 505.1,266.2 505.6,265.8 506.3,265.4 506.7,264.9 507.4,264.7 507.9,264.3 508.6,263.6 509.5,262.9 510.3,262.3 510.9,261.8 511.2,261.7 511.2,262.0 511.7,262.3 512.1,262.9 512.6,263.7 513.5,264.2 514.1,264.9 514.6,265.6 515.1,266.1 515.6,266.6 516.1,267.2 516.5,267.9 516.9,268.6 517.4,269.1 517.9,269.6 518.4,270.1 519.1,270.4 519.9,270.6 520.5,271.0 521.1,271.3 521.9,271.4 522.5,271.7 523.2,272.1 523.9,272.3 524.7,272.6 525.4,272.8 526.2,272.7 527.1,272.7 527.9,272.7 528.7,272.7 529.4,272.8 530.0,272.3 530.7,272.0 531.5,272.3 532.3,272.3 533.1,272.3 533.8,272.0 534.3,271.3 535.1,271.5 535.9,271.4 536.3,270.4 537.0,270.2 537.8,270.0 538.5,269.7 539.2,269.6 539.7,269.1 540.4,268.9 540.9,268.2 541.6,267.8 541.8,267.0 542.0,266.1 543.0,266.1 543.3,265.4 543.6,264.7 544.8,264.6 545.3,264.0 545.7,263.5 545.8,262.7 546.4,262.1 547.2,262.5 547.9,262.5 548.7,262.6 549.2,263.1 549.9,263.4 550.9,263.3 551.3,264.1 551.5,265.2 552.2,265.7 553.1,265.5 553.8,264.9 554.6,264.9 555.2,264.4 555.8,263.6 556.7,264.0 557.6,264.3 558.2,263.8 559.0,263.6 559.6,263.1 560.3,262.7 561.0,262.6 561.7,262.2 562.4,262.2 563.0,261.8 563.7,261.7 564.7,261.8 565.4,261.3 566.2,261.1 566.9,260.7 567.7,260.6 568.4,261.2 569.1,261.4 569.6,262.0 570.3,262.2 571.2,262.5 571.6,263.3 572.2,263.8 572.5,264.7 573.0,265.3 573.8,265.5 574.5,265.8 575.1,266.2 575.5,267.0 575.9,267.7 576.7,268.0 577.6,268.0 578.2,268.4 578.8,268.8 579.5,269.0 580.1,269.2 580.7,269.8 581.2,270.8 581.9,271.0 582.7,270.8 583.5,270.6 584.3,270.8 585.0,271.3 585.8,271.5 586.5,271.6 587.2,271.4 587.9,271.8 588.9,272.2 589.7,271.9 590.3,271.3 590.7,270.4 591.4,269.9 592.4,270.4 593.3,270.7 593.9,270.1 594.4,269.4 595.1,269.1 595.4,268.3 596.0,267.5 596.3,267.0 596.6,266.5 596.9,265.8 597.0,265.1 597.3,264.4 597.3,263.6 597.4,262.8 598.0,262.1 598.4,261.5 598.0,260.7 597.9,259.9 598.4,259.3 598.7,258.6 598.6,257.8 598.9,257.1 598.5,256.3 598.3,255.6 598.8,255.0 598.8,254.1 599.3,253.1 599.9,252.2 599.5,251.2 599.3,250.4 599.7,249.9 599.3,250.1 599.4,249.9 599.5,250.5 599.7,251.3 600.5,252.0 600.5,253.1 600.3,254.1 600.7,254.7 601.0,255.3 600.7,256.2 600.7,257.0 601.4,257.6 601.5,258.4 601.6,259.1 602.2,259.5 602.7,260.5 603.1,261.7 603.5,262.5 604.0,262.8 604.5,262.3 604.4,261.9 604.0,261.2 604.3,260.6 604.6,259.8 605.2,259.1 605.7,258.2 605.6,257.1 606.1,256.0 605.8,255.4 606.0,254.8 606.2,254.2 605.6,253.4 605.9,252.7 606.2,252.0 606.6,251.2 606.7,250.4 606.0,249.6 605.7,248.7 605.7,247.9 606.2,247.2 606.9,246.5 606.5,245.7 606.3,244.9 606.7,244.2 607.3,243.6 607.8,243.1 607.9,242.1 607.6,241.2 607.5,240.4 607.2,239.6 607.3,238.8 607.3,238.1 607.1,237.4 607.8,236.8 608.1,236.2 608.1,235.6 608.2,235.0 608.0,234.0 608.4,233.1 609.0,232.3 609.2,231.4 609.7,230.9 610.5,230.8 609.9,230.4 610.7,229.9 611.5,230.8 611.7,231.8 612.6,232.4 613.0,232.7 613.0,232.9 612.8,233.3 612.6,234.0 613.0,234.6 613.5,235.4 613.7,236.4 613.6,237.3 613.7,238.3 614.1,239.1 614.4,239.9 614.0,240.8 613.4,241.8 613.4,242.8 613.8,243.7 613.9,244.7 614.5,245.6 615.1,246.3 614.6,246.9 614.8,247.3 614.2,246.8 614.6,247.2 615.0,246.7 615.0,245.7 615.6,244.8 616.5,244.1 616.4,243.3 616.6,242.7 617.1,242.1 617.1,241.3 617.4,240.5 617.4,239.7 617.8,238.9 618.1,238.0 618.1,237.4 618.5,236.8 618.5,236.2 618.7,235.6 618.7,234.9 618.5,234.2 618.8,233.5 618.9,232.7 619.1,231.9 619.4,231.0 619.4,230.0 619.4,229.4 619.1,228.8 619.3,228.2 619.4,227.5 619.2,226.8 619.2,226.0 619.3,225.3 619.4,224.5 619.3,223.7 619.1,223.0 619.1,222.2 619.4,221.4 619.4,220.6 619.1,219.8 619.3,219.1 619.5,218.3 619.5,217.6 619.6,216.9 619.6,216.2 619.4,215.6 619.4,215.0 619.4,214.0 619.1,213.1 619.2,212.2 619.5,211.4 619.7,210.6 619.8,209.8 620.0,209.1 620.1,208.4 620.0,207.8 619.8,207.2 620.0,206.6 620.2,206.0 620.0,204.9 620.2,203.9 620.3,203.0 620.3,202.3 620.7,201.9 620.9,201.9 621.1,202.2 621.8,202.6 622.8,202.8 623.6,203.2 624.6,203.7 625.7,203.7 626.2,203.6 626.3,203.7 626.6,204.3 626.7,205.1 626.5,206.1 626.9,207.0 627.0,207.6 626.7,208.3 626.9,209.1 626.9,209.8 627.1,210.6 627.4,211.3 627.4,212.0 627.4,212.7 627.6,213.4 628.3,214.0 628.5,214.7 628.7,215.4 629.1,216.0 629.5,216.5 630.1,217.1 630.6,217.5 631.1,218.0 631.4,218.7 631.7,219.5 631.8,220.1 631.7,220.9 632.0,221.6 632.0,222.4 632.0,223.3 632.4,224.1 632.7,225.0 632.6,225.7 632.5,226.4 633.0,227.0 633.1,227.7 633.1,228.4 633.4,229.1 633.4,229.9 633.6,230.6 634.0,231.3 634.0,232.0 633.9,232.7 634.2,233.3 634.4,233.9 634.3,234.5 634.7,235.1 634.8,235.8 634.8,236.6 635.0,237.6 635.2,238.7 635.4,239.2 635.5,239.8 635.6,240.4 635.7,241.1 635.8,241.8 636.0,242.5 636.2,243.2 636.1,244.0 636.2,244.8 636.2,245.6 636.1,246.4 636.4,247.2 636.5,248.0 636.6,248.8 636.8,249.6 637.0,250.4 636.8,251.2 636.6,251.9 636.7,252.6 637.1,253.2 637.5,253.8 637.6,254.3 637.6,254.9 637.7,256.0 638.1,256.9 638.3,257.7 638.3,258.4 638.4,259.1 638.8,259.5 639.3,259.8 639.3,260.4 639.4,261.0 640.0,261.7 640.6,262.3 641.0,262.9 641.3,263.5 641.7,264.1 642.2,264.6 642.5,265.4 642.7,266.3 643.5,266.7 644.4,266.9 645.0,267.4 645.5,268.0 646.0,268.5 646.7,268.8 647.5,268.4 648.3,268.4 649.1,268.6 650.0,268.6 650.6,268.9 651.2,269.0 651.9,269.0 652.7,268.7 653.5,268.5 654.1,269.4 654.8,270.3 655.6,270.0 656.5,269.4 657.2,269.8 658.0,270.2 658.7,269.9 659.4,270.0 660.1,269.6 660.8,269.1 661.6,269.6 662.5,269.9 663.3,269.8 663.9,269.4 664.7,269.2 665.5,269.4 666.1,268.8 666.9,268.6 667.5,268.0 668.0,267.1 668.8,267.5 669.6,267.4 670.2,266.9 671.0,267.3 671.8,267.2 672.3,266.5 673.0,266.4 673.7,266.0 674.2,265.5 675.2,265.9 675.8,265.6 676.1,264.8 677.0,264.7 677.8,264.5 678.2,263.9 678.9,263.4 679.5,263.0 679.7,262.2 680.1,261.6 680.5,261.0 680.6,260.1 681.0,259.4 681.6,258.9 682.0,258.2 682.8,258.0 683.6,257.8 684.5,257.6 685.0,256.9 685.6,256.3 686.4,256.0 686.9,255.3 687.6,254.9 688.5,255.0 689.3,254.9 689.6,254.2 689.8,253.5 690.5,252.6 691.2,252.2 692.3,252.4 692.8,251.9 693.1,251.1 693.8,250.7 693.6,249.9 693.4,249.1 693.9,248.6 694.1,247.9 694.4,247.2 695.1,246.5 695.1,245.8 695.3,245.1 695.7,244.5 696.0,243.7 696.1,242.9 696.5,242.1 697.0,241.4 697.2,240.8 697.9,240.3 697.9,239.7 697.7,238.4 698.0,237.4 699.2,237.3 699.7,237.0 699.4,236.9 699.4,236.8 699.8,237.5 700.1,238.4 701.1,239.1 702.1,239.7 703.1,240.1 703.9,240.3 703.6,240.3 703.5,240.8 704.2,240.6 704.5,240.0 704.9,239.3 704.7,238.2 704.4,236.9 705.0,236.1 705.4,235.2 706.0,234.7 707.1,234.4 707.7,233.8 707.5,232.6 707.8,231.7 708.7,231.1 709.1,230.4 709.3,229.6 709.3,228.8 709.9,228.6 710.6,228.5 710.0,228.7 710.1,228.4 711.0,228.2 711.9,228.4 712.6,229.1 713.4,229.6 714.0,230.2 714.4,231.2 714.8,232.3 715.7,232.7 716.0,233.3 716.2,233.4 716.3,233.2 717.0,232.8 717.1,231.8 717.2,230.7 717.7,229.7 718.5,229.3 718.9,228.2 719.2,226.9 720.3,226.8 720.6,226.6 721.1,226.2 721.6,226.7 722.4,227.3 723.4,227.8 724.1,228.7 724.5,229.4 724.3,230.3 724.1,231.3 724.5,232.1 724.9,232.9 725.0,233.8 724.7,234.7 724.9,235.6 726.3,235.6 727.2,235.2 728.1,235.3 728.9,235.9 729.1,236.8 729.5,237.5 730.2,238.1 730.5,239.0 730.8,239.8 731.4,240.5 732.2,241.1 733.0,241.6 733.8,241.9 734.2,242.3" fill="none" stroke="#0000ff" stroke-width="6.5" stroke-linejoin="round" clip-path="url(#clip)"/>
<path d="M30.00,278.00 C37.17,278.00 61.75,278.13 73.00,278.00 C84.25,277.87 93.00,277.38 97.50,277.20 C102.00,277.02 97.98,277.27 100.00,276.90 C102.02,276.53 107.60,275.37 109.60,275.00 C111.60,274.63 109.57,275.18 112.00,274.70 C114.43,274.22 120.15,273.10 124.20,272.10 C128.25,271.10 133.08,269.77 136.30,268.70 C139.52,267.63 141.48,266.92 143.50,265.70 C145.52,264.48 146.78,262.57 148.40,261.40 C150.02,260.23 151.60,260.40 153.20,258.70 C154.80,257.00 156.58,253.27 158.00,251.20 C159.42,249.13 161.70,246.30 161.70,246.30 C161.70,246.30 163.90,248.75 165.30,249.60 C166.70,250.45 168.08,250.30 170.10,251.40 C172.12,252.50 175.18,255.40 177.40,256.20 C179.62,257.00 181.80,255.73 183.40,256.20 C185.00,256.67 185.58,257.78 187.00,259.00 C188.42,260.22 190.57,262.27 191.90,263.50 C193.23,264.73 193.65,265.63 195.00,266.40 C196.35,267.17 198.00,267.43 200.00,268.10 C202.00,268.77 203.83,269.57 207.00,270.40 C210.17,271.23 215.00,272.45 219.00,273.10 C223.00,273.75 226.93,274.52 231.00,274.30 C235.07,274.08 240.03,272.75 243.40,271.80 C246.77,270.85 251.20,268.60 251.20,268.60 C251.20,268.60 255.17,270.15 257.90,271.20 C260.63,272.25 263.98,274.07 267.60,274.90 C271.22,275.73 275.03,275.88 279.60,276.20 C284.17,276.52 277.10,276.58 295.00,276.80 C312.90,277.02 359.50,277.37 387.00,277.50 C414.50,277.63 444.50,277.78 460.00,277.60 C475.50,277.42 475.35,276.82 480.00,276.40 C484.65,275.98 485.28,275.88 487.90,275.10 C490.52,274.32 493.08,273.00 495.70,271.70 C498.32,270.40 501.58,268.55 503.60,267.30 C505.62,266.05 506.53,265.12 507.80,264.20 C509.07,263.28 511.20,261.80 511.20,261.80 C511.20,261.80 513.38,264.23 514.60,265.60 C515.82,266.97 517.07,268.92 518.50,270.00 C519.93,271.08 521.50,271.63 523.20,272.10 C524.90,272.57 526.73,272.93 528.70,272.80 C530.67,272.67 533.12,272.03 535.00,271.30 C536.88,270.57 538.68,269.28 540.00,268.40 C541.32,267.52 541.93,266.95 542.90,266.00 C543.87,265.05 544.83,263.25 545.80,262.70 C546.77,262.15 547.62,262.32 548.70,262.70 C549.78,263.08 551.08,264.75 552.30,265.00 C553.52,265.25 554.78,264.52 556.00,264.20 C557.22,263.88 558.40,263.38 559.60,263.10 C560.80,262.82 561.98,262.85 563.20,262.50 C564.42,262.15 565.80,261.12 566.90,261.00 C568.00,260.88 568.83,261.22 569.80,261.80 C570.77,262.38 571.62,263.60 572.70,264.50 C573.78,265.40 575.10,266.33 576.30,267.20 C577.50,268.07 578.70,269.10 579.90,269.70 C581.10,270.30 582.28,270.43 583.50,270.80 C584.72,271.17 585.98,271.92 587.20,271.90 C588.42,271.88 589.72,271.07 590.80,270.70 C591.88,270.33 592.83,270.23 593.70,269.70 C594.57,269.17 595.35,268.78 596.00,267.50 C596.65,266.22 597.17,264.08 597.60,262.00 C598.03,259.92 598.30,257.05 598.60,255.00 C598.90,252.95 599.40,249.70 599.40,249.70 C599.40,249.70 600.13,252.37 600.60,254.00 C601.07,255.63 601.60,258.12 602.20,259.50 C602.80,260.88 604.20,262.30 604.20,262.30 C604.20,262.30 605.33,259.22 605.80,256.00 C606.27,252.78 606.63,246.50 607.00,243.00 C607.37,239.50 607.52,237.12 608.00,235.00 C608.48,232.88 609.90,230.30 609.90,230.30 C609.90,230.30 611.02,230.38 611.50,230.80 C611.98,231.22 612.80,232.80 612.80,232.80 C612.80,232.80 613.50,237.55 613.80,240.00 C614.10,242.45 614.60,247.50 614.60,247.50 C614.60,247.50 615.73,245.58 616.30,244.00 C616.87,242.42 617.50,240.33 618.00,238.00 C618.50,235.67 619.07,233.83 619.30,230.00 C619.53,226.17 619.30,219.00 619.40,215.00 C619.50,211.00 619.65,208.20 619.90,206.00 C620.15,203.80 620.90,201.80 620.90,201.80 C620.90,201.80 622.72,202.92 623.60,203.20 C624.48,203.48 626.20,203.50 626.20,203.50 C626.20,203.50 626.72,205.58 626.90,207.00 C627.08,208.42 626.87,210.42 627.30,212.00 C627.73,213.58 628.78,215.25 629.50,216.50 C630.22,217.75 631.10,218.08 631.60,219.50 C632.10,220.92 632.12,222.92 632.50,225.00 C632.88,227.08 633.43,229.72 633.90,232.00 C634.37,234.28 634.72,234.88 635.30,238.70 C635.88,242.52 636.70,251.18 637.40,254.90 C638.10,258.62 638.77,259.33 639.50,261.00 C640.23,262.67 640.88,263.82 641.80,264.90 C642.72,265.98 643.63,266.87 645.00,267.50 C646.37,268.13 647.72,268.30 650.00,268.70 C652.28,269.10 655.78,270.02 658.70,269.90 C661.62,269.78 664.58,268.83 667.50,268.00 C670.42,267.17 673.72,266.45 676.20,264.90 C678.68,263.35 680.10,260.55 682.40,258.70 C684.70,256.85 688.23,255.08 690.00,253.80 C691.77,252.52 692.17,252.22 693.00,251.00 C693.83,249.78 694.25,248.42 695.00,246.50 C695.75,244.58 696.77,241.17 697.50,239.50 C698.23,237.83 699.40,236.50 699.40,236.50 C699.40,236.50 703.50,241.00 703.50,241.00 C703.50,241.00 704.92,237.65 706.00,235.50 C707.08,233.35 710.00,228.10 710.00,228.10 C710.00,228.10 712.07,229.10 713.10,230.00 C714.13,230.90 716.20,233.50 716.20,233.50 C716.20,233.50 717.37,230.15 718.10,229.00 C718.83,227.85 720.60,226.60 720.60,226.60 C720.60,226.60 722.87,227.60 723.70,229.00 C724.53,230.40 724.77,233.80 725.60,235.00 C726.43,236.20 727.77,235.45 728.70,236.20 C729.63,236.95 730.32,238.45 731.20,239.50 C732.08,240.55 733.53,242.00 734.00,242.50" fill="none" stroke="#0000ff" stroke-width="7.4" stroke-linejoin="round" clip-path="url(#clipfp)"/>
<polygon points="619.3,353.2 619.3,334 620.9,328 625.8,331.8 626.8,335 627.5,343 630,346.5 630,353.2" fill="#ff0000"/>
<polyline points="30.0,408.9 30.4,408.9 30.8,409.0 31.2,409.0 31.6,409.1 32.1,408.9 32.6,408.7 33.1,409.0 33.6,409.0 34.2,408.8 34.8,409.1 35.4,409.2 36.0,409.1 36.7,409.1 37.3,409.1 38.0,409.0 38.7,409.0 39.4,409.2 40.1,409.2 40.8,409.1 41.6,409.2 42.3,409.0 43.1,409.0 43.9,409.2 44.7,409.0 45.5,408.8 46.3,409.0 47.1,409.2 47.9,409.1 48.7,409.3 49.6,409.3 50.4,409.3 51.2,409.2 52.1,409.1 52.9,409.2 53.7,409.2 54.6,409.4 55.4,409.1 56.2,408.8 57.1,408.9 57.9,409.2 58.7,409.2 59.5,409.1 60.3,409.1 61.2,409.0 62.0,409.0 62.7,409.0 63.5,409.1 64.3,409.1 65.0,409.2 65.8,409.3 66.5,409.3 67.3,409.3 68.0,409.4 68.6,409.3 69.3,409.0 70.0,409.0 70.6,409.3 71.3,409.3 71.9,409.2 72.4,409.1 73.0,409.0 74.0,409.0 74.9,409.1 75.8,408.9 76.7,408.7 77.7,408.9 78.6,409.1 79.4,408.8 80.3,408.7 81.2,408.8 82.0,408.6 82.8,408.5 83.6,408.7 84.4,408.8 85.2,408.5 85.9,408.4 86.7,408.3 87.4,408.3 88.1,408.4 88.8,408.4 89.5,408.6 90.2,408.4 90.8,408.4 91.5,408.3 92.0,407.9 92.6,408.0 93.2,407.9 93.8,407.7 94.3,407.8 94.8,408.0 95.3,407.8 95.8,407.6 96.2,407.8 96.7,407.9 97.1,407.9 97.5,408.1 99.7,407.9 99.5,407.8 100.0,407.8 100.5,407.8 101.2,407.8 101.9,407.6 102.7,407.6 103.5,407.6 104.4,407.4 105.2,407.1 106.1,407.1 106.9,406.9 107.7,406.7 108.5,406.8 109.1,406.8 109.6,406.6 110.5,406.3 110.7,406.2 112.0,406.2 112.4,406.0 113.0,405.9 113.6,406.0 114.2,405.7 114.9,405.6 115.6,405.7 116.3,405.6 117.1,405.4 117.9,405.3 118.7,405.3 119.5,404.9 120.3,404.6 121.1,404.6 122.0,404.8 122.7,404.5 123.4,404.2 124.2,404.1 124.9,403.9 125.5,403.7 126.3,403.5 127.0,403.3 127.7,403.2 128.4,402.9 129.1,402.7 129.9,402.6 130.5,402.3 131.2,402.0 132.0,402.0 132.6,401.7 133.2,401.3 133.9,401.3 134.6,401.1 135.1,400.7 135.7,400.6 136.3,400.5 137.1,400.2 137.9,399.8 138.6,399.6 139.4,399.5 140.1,399.3 140.7,399.1 141.3,398.8 141.8,398.4 142.4,398.3 143.0,398.2 143.6,397.8 144.2,397.2 144.8,396.6 145.4,396.2 146.0,395.7 146.7,395.3 147.4,395.0 147.8,394.4 148.3,393.7 149.0,393.5 149.7,393.3 150.3,393.0 150.8,392.6 151.3,392.0 151.9,391.6 152.6,391.4 153.2,390.8 153.5,390.2 154.0,389.7 154.5,389.1 155.0,388.5 155.6,387.9 156.0,387.2 156.1,386.4 156.8,385.9 157.5,385.4 157.9,384.9 158.1,384.3 158.8,383.4 159.6,382.7 160.0,381.8 160.5,381.1 161.0,380.9 161.0,380.8 161.0,380.8 161.4,381.0 161.8,381.4 162.3,382.0 162.9,382.6 163.4,383.4 164.0,384.2 164.6,384.9 165.3,385.4 165.9,385.8 166.4,386.4 167.0,386.7 167.7,387.2 168.4,387.5 169.1,387.8 170.0,387.9 170.7,388.2 171.3,388.6 172.1,388.8 172.6,389.3 173.3,389.7 174.1,390.1 174.7,390.6 175.3,391.0 176.1,391.2 176.8,391.4 177.4,391.9 178.0,392.2 178.6,392.4 179.5,392.5 180.3,392.3 181.1,392.2 181.9,392.3 182.7,392.2 183.4,392.3 183.9,392.8 184.5,393.2 185.0,393.7 185.8,394.1 186.4,394.6 186.9,395.4 187.5,395.7 188.2,396.0 188.7,396.6 189.2,397.1 189.8,397.7 190.4,398.2 190.9,398.8 191.5,399.1 192.1,399.2 192.8,399.9 193.3,400.3 193.9,400.7 194.3,401.3 194.9,401.9 195.6,401.8 196.3,401.8 196.9,402.0 197.6,402.1 198.4,402.2 199.2,402.4 200.0,402.7 200.6,402.7 201.2,402.7 201.8,402.9 202.5,403.1 203.1,403.3 203.7,403.7 204.5,403.8 205.3,403.8 206.1,403.9 207.0,404.1 207.6,404.4 208.2,404.6 208.8,404.6 209.5,404.7 210.1,404.9 210.9,404.9 211.6,404.9 212.3,405.0 213.1,405.2 213.8,405.3 214.6,405.4 215.3,405.5 216.1,405.4 216.8,405.5 217.5,405.7 218.3,405.6 219.0,405.6 219.7,405.8 220.4,406.1 221.1,406.3 221.8,406.2 222.5,406.3 223.2,406.5 223.9,406.3 224.6,406.3 225.3,406.3 226.0,406.5 226.7,406.7 227.4,406.8 228.1,406.9 228.9,406.8 229.6,406.8 230.3,406.8 231.0,406.6 231.7,406.6 232.5,406.5 233.2,406.3 234.0,406.6 234.8,406.5 235.5,406.2 236.3,406.2 237.1,406.4 237.8,406.3 238.6,406.0 239.3,406.1 240.1,406.1 240.8,406.0 241.5,406.0 242.2,405.9 242.8,405.9 243.4,405.7 244.3,405.4 245.1,404.9 246.0,404.6 247.0,404.4 247.8,404.0 248.5,403.5 249.3,403.2 250.0,403.1 250.5,402.6 250.8,402.2 251.1,402.2 251.2,402.3 251.3,402.3 251.7,402.2 252.2,402.5 252.8,402.9 253.5,403.4 254.3,403.7 255.3,403.9 256.2,404.3 257.1,404.6 257.9,404.8 258.5,404.9 259.1,405.1 259.7,405.5 260.4,405.6 261.0,405.7 261.7,405.8 262.4,405.9 263.1,406.2 263.8,406.3 264.6,406.4 265.3,406.4 266.1,406.6 266.8,406.8 267.6,406.7 268.3,406.5 268.9,406.8 269.5,407.1 270.2,407.1 270.9,407.0 271.5,407.1 272.2,407.0 272.9,406.9 273.6,406.9 274.3,407.1 275.0,407.1 275.8,407.1 276.5,407.2 277.2,407.5 278.0,407.4 278.8,407.4 279.6,407.4 280.1,407.5 280.6,407.6 280.9,407.5 281.2,407.4 281.4,407.3 281.5,407.5 281.6,407.6 281.8,407.6 281.9,407.6 282.1,407.7 282.3,407.9 282.6,407.9 283.1,408.0 283.6,408.2 284.3,408.1 285.2,408.1 286.2,408.2 287.5,408.4 289.0,408.3 290.7,408.2 292.7,408.3 295.0,408.5 295.4,408.4 295.8,408.4 296.3,408.6 296.7,408.5 297.2,408.2 297.6,408.1 298.1,408.3 298.6,408.5 299.1,408.6 299.6,408.6 300.1,408.4 300.6,408.2 301.1,408.2 301.7,408.2 302.2,408.3 302.8,408.6 303.3,408.6 303.9,408.4 304.5,408.4 305.0,408.5 305.6,408.3 306.2,408.5 306.8,408.3 307.4,408.1 308.1,408.4 308.7,408.5 309.3,408.3 309.9,408.4 310.6,408.5 311.2,408.3 311.9,408.2 312.6,408.4 313.2,408.4 313.9,408.3 314.6,408.4 315.3,408.6 316.0,408.6 316.7,408.4 317.4,408.3 318.1,408.3 318.8,408.5 319.5,408.4 320.2,408.5 320.9,408.8 321.7,408.5 322.4,408.5 323.1,408.6 323.9,408.5 324.6,408.7 325.4,408.5 326.1,408.5 326.9,408.6 327.7,408.7 328.4,408.5 329.2,408.5 330.0,408.8 330.7,408.7 331.5,408.6 332.3,408.4 333.1,408.4 333.8,408.5 334.6,408.6 335.4,408.7 336.2,408.6 337.0,408.5 337.8,408.5 338.6,408.7 339.4,408.5 340.2,408.6 341.0,408.8 341.8,408.5 342.6,408.6 343.4,408.6 344.2,408.4 345.0,408.6 345.8,408.7 346.6,408.6 347.4,408.7 348.2,408.6 349.0,408.5 349.8,408.4 350.6,408.3 351.4,408.5 352.2,408.8 353.0,408.7 353.8,408.7 354.6,408.6 355.4,408.5 356.2,408.5 357.0,408.7 357.8,408.6 358.6,408.5 359.4,408.5 360.2,408.6 361.0,408.7 361.8,408.5 362.6,408.5 363.3,408.6 364.1,408.7 364.9,408.7 365.7,408.7 366.4,408.6 367.2,408.4 368.0,408.4 368.7,408.4 369.5,408.6 370.3,408.8 371.0,408.6 371.8,408.4 372.5,408.5 373.2,408.7 374.0,408.9 374.7,408.9 375.4,408.8 376.2,408.6 376.9,408.5 377.6,408.5 378.3,408.6 379.0,408.7 379.7,408.6 380.4,408.5 381.1,408.7 381.8,408.6 382.4,408.6 383.1,408.9 383.8,409.0 384.4,408.8 385.1,408.7 385.7,408.7 386.4,408.8 387.0,408.9 387.8,408.9 388.6,408.7 389.4,408.8 390.2,408.8 391.0,408.7 391.8,408.8 392.6,408.6 393.4,408.6 394.2,408.9 395.0,408.8 395.8,408.7 396.6,408.7 397.4,408.6 398.2,408.6 399.0,408.6 399.8,408.6 400.6,408.8 401.4,408.8 402.2,408.8 403.0,408.9 403.8,409.1 404.6,408.8 405.4,408.7 406.2,408.9 407.0,408.7 407.8,408.6 408.6,408.6 409.4,408.5 410.2,408.7 411.0,409.0 411.8,408.9 412.6,408.9 413.4,409.0 414.2,408.7 415.0,408.8 415.8,409.0 416.5,409.0 417.3,409.0 418.1,409.0 418.9,408.8 419.6,408.9 420.4,409.1 421.2,409.1 422.0,408.9 422.7,408.9 423.5,408.9 424.2,408.7 425.0,408.5 425.8,408.5 426.5,408.6 427.3,408.6 428.0,408.7 428.7,408.9 429.5,408.9 430.2,408.8 430.9,408.9 431.7,408.8 432.4,408.8 433.1,408.9 433.8,408.9 434.5,408.7 435.2,408.9 435.9,409.1 436.6,408.9 437.3,408.8 438.0,408.8 438.7,408.9 439.4,408.8 440.1,408.6 440.7,408.6 441.4,408.9 442.1,408.8 442.7,408.7 443.4,408.8 444.0,408.7 444.7,408.7 445.3,408.7 445.9,408.7 446.5,408.6 447.2,408.6 447.8,408.6 448.4,408.8 449.0,408.7 449.6,408.5 450.2,408.7 450.7,408.8 451.3,408.9 451.9,408.8 452.4,408.7 453.0,408.8 453.5,408.6 454.1,408.8 454.6,408.9 455.1,408.6 455.7,408.7 456.2,408.7 456.7,408.8 457.2,408.8 457.7,408.6 458.1,408.5 458.6,408.7 459.1,408.8 459.5,408.8 460.0,408.9 461.6,408.9 463.1,408.8 464.5,408.6 465.7,408.5 466.9,408.7 468.0,408.8 469.0,408.6 469.9,408.3 470.8,408.4 471.6,408.7 472.3,408.6 472.9,408.2 473.5,408.0 474.0,408.0 474.6,408.0 475.0,407.9 475.5,407.8 475.9,408.0 476.3,408.2 476.7,408.0 477.1,408.0 477.5,408.0 477.9,407.9 478.3,408.0 478.7,408.0 479.1,407.7 479.5,407.4 480.0,407.6 481.2,407.7 482.2,407.4 483.0,407.1 483.8,407.3 484.4,407.2 485.0,406.9 485.5,406.9 486.1,407.0 486.7,407.1 487.2,406.8 487.9,406.6 488.6,406.6 489.4,406.5 490.1,406.3 490.8,406.2 491.5,405.9 492.1,405.6 492.8,405.3 493.6,405.2 494.3,405.1 495.0,404.7 495.6,404.3 496.4,404.2 497.1,404.0 497.8,403.7 498.5,403.3 499.2,402.8 499.8,402.4 500.5,402.1 501.2,401.7 501.8,401.3 502.5,401.2 503.1,400.9 503.6,400.4 504.4,399.8 505.3,399.6 506.0,399.4 506.7,399.1 507.3,398.9 507.9,398.4 508.7,397.9 509.7,397.5 510.5,396.9 511.1,396.4 511.4,396.2 511.7,396.4 511.9,397.0 512.5,397.4 513.3,397.9 514.1,398.5 515.0,399.0 515.5,399.7 516.0,400.3 516.7,400.8 517.2,401.4 517.6,402.1 518.1,402.8 518.8,403.2 519.4,403.5 520.0,404.1 520.7,404.4 521.5,404.5 522.2,404.7 523.1,404.9 524.0,405.1 524.6,405.2 525.3,405.3 526.0,405.1 526.8,405.1 527.5,405.1 528.3,405.4 529.0,405.4 529.7,405.1 530.4,405.4 531.1,405.4 531.9,405.2 532.6,404.9 533.2,404.3 534.0,404.2 534.8,404.2 535.6,404.2 536.1,403.8 536.8,403.6 537.7,403.4 538.2,402.6 538.8,402.0 539.4,401.6 539.8,400.9 540.7,400.7 541.7,400.6 542.4,400.2 542.9,399.4 543.3,398.8 544.1,398.4 544.7,398.0 545.1,397.3 545.7,396.7 546.5,397.0 547.3,397.0 548.1,397.4 548.6,398.3 549.3,398.6 550.0,399.1 550.7,399.8 551.6,399.8 552.3,399.7 553.0,400.2 553.7,399.8 554.0,398.9 554.5,398.2 555.0,397.5 555.7,397.1 556.8,397.3 557.7,397.4 558.4,397.1 559.1,397.1 559.8,396.6 560.4,396.4 561.1,396.2 561.7,395.6 562.5,395.9 563.4,396.1 564.2,395.9 564.8,395.3 565.5,394.9 566.2,394.6 567.0,394.7 567.8,395.0 568.4,394.4 569.0,394.4 569.8,394.6 570.8,394.4 571.0,395.3 571.5,396.1 572.2,396.5 572.6,397.3 573.5,397.4 574.2,397.9 574.8,398.4 575.7,398.6 576.4,399.0 576.9,399.7 577.2,400.4 578.1,400.5 579.0,400.5 579.6,400.8 580.0,401.4 580.7,401.4 581.4,401.2 582.1,401.8 582.7,402.4 583.3,402.7 583.9,403.2 584.6,403.5 585.6,403.4 586.6,403.1 587.2,403.1 587.9,403.3 588.7,403.2 589.4,402.8 590.1,402.3 590.9,402.3 591.6,402.1 592.3,401.6 593.1,402.1 594.0,402.1 594.4,401.2 594.6,400.3 595.5,399.9 595.9,398.9 595.5,398.2 596.2,397.7 596.7,397.1 596.6,396.2 596.4,395.3 596.6,394.5 597.4,393.8 597.8,393.0 598.1,392.4 598.5,391.8 598.6,391.0 598.1,390.2 597.5,389.4 597.5,388.7 597.8,388.0 598.2,387.3 598.0,386.6 598.2,386.0 598.4,385.1 598.3,384.1 598.6,383.1 599.2,382.2 599.4,381.4 599.0,380.6 598.8,380.1 599.6,379.6 599.4,380.2 599.3,380.9 599.3,381.8 599.5,382.8 600.3,383.6 601.1,384.4 600.9,385.1 600.5,386.0 600.9,386.6 601.1,387.4 601.2,388.1 601.9,388.7 602.4,389.2 602.9,389.7 602.9,390.8 602.7,392.2 603.1,393.1 603.8,393.6 604.1,393.7 604.7,393.7 605.0,393.4 604.9,392.8 604.7,392.0 604.9,391.1 604.9,390.2 604.8,389.1 605.5,388.1 606.4,387.1 606.4,386.5 605.9,385.9 605.8,385.2 605.9,384.6 606.4,383.9 606.4,383.2 606.6,382.4 606.4,381.7 605.9,380.8 606.3,380.1 606.4,379.3 606.8,378.5 607.2,377.8 607.3,377.0 607.2,376.3 606.5,375.5 606.5,374.8 607.0,374.2 607.0,373.6 606.8,373.0 607.1,372.0 607.7,371.2 607.3,370.3 607.1,369.5 607.5,368.8 607.4,368.1 607.9,367.5 608.4,366.9 608.3,366.3 607.7,365.6 608.1,365.0 608.3,364.1 608.2,362.9 609.1,362.1 609.4,361.3 609.3,360.4 610.0,360.2 610.0,360.7 610.4,360.2 611.7,360.2 612.3,361.0 613.0,361.8 613.3,362.3 612.6,362.7 612.8,363.0 613.6,363.5 613.6,364.3 613.8,365.1 613.7,366.1 613.2,367.2 613.1,368.2 613.3,369.2 613.4,370.0 614.0,370.7 614.6,371.4 613.8,372.4 614.1,373.3 614.8,374.2 614.5,375.2 614.6,376.1 614.6,376.9 614.8,377.6 615.2,378.2 614.4,378.8 614.5,379.1 614.6,379.2 614.8,379.1 615.2,378.6 616.0,378.1 616.2,377.0 616.1,375.9 615.8,375.2 616.6,374.7 616.9,374.0 616.9,373.2 617.4,372.5 617.9,371.8 617.8,370.9 618.0,370.0 618.3,369.4 618.2,368.8 618.2,368.2 618.4,367.6 618.8,367.0 618.9,366.4 618.7,365.6 618.8,364.8 618.9,364.0 619.0,363.1 619.4,362.0 619.3,361.5 619.1,360.9 619.4,360.3 619.7,359.6 619.8,359.0 619.5,358.3 619.2,357.5 619.5,356.8 619.5,356.1 619.4,355.3 619.4,354.5 619.1,353.8 619.1,353.0 619.4,352.2 619.5,351.4 619.5,350.6 619.3,349.9 619.3,349.1 619.3,348.4 619.3,347.6 619.4,346.9 619.3,346.3 619.2,345.6 619.5,345.0 619.6,344.2 619.3,343.3 619.4,342.5 619.7,341.7 619.4,340.9 619.2,340.1 619.2,339.4 619.2,338.6 619.5,337.9 619.7,337.2 619.7,336.5 619.6,335.9 619.3,335.2 619.6,334.6 620.0,334.1 620.1,333.5 620.1,333.0 620.0,331.8 620.2,330.7 620.3,329.7 620.4,328.9 620.7,328.3 620.7,327.9 620.9,327.7 621.1,328.0 621.7,328.4 622.3,329.1 623.1,329.7 623.7,330.2 624.5,331.0 625.3,331.8 625.5,332.1 625.5,332.1 625.7,332.6 626.2,333.3 626.3,334.2 626.5,335.1 627.0,336.0 627.0,336.7 626.8,337.4 626.9,338.2 627.0,339.0 627.1,339.8 627.0,340.6 627.1,341.3 627.4,342.0 627.7,342.7 627.9,343.5 628.1,344.3 628.7,344.9 629.3,345.4 629.6,346.0 630.1,346.4 630.7,347.2 630.9,348.0 631.2,348.7 631.9,349.5 632.0,350.1 631.9,350.9 632.0,351.7 632.0,352.5 632.4,353.3 632.4,354.2 632.2,355.0 632.4,355.7 632.5,356.4 632.5,357.0 632.9,357.7 633.2,358.3 633.3,359.0 633.4,359.7 633.6,360.5 633.6,361.1 633.6,361.7 633.7,362.3 634.1,362.7 634.4,363.3 634.5,364.0 634.5,364.7 634.7,365.5 635.1,366.3 635.2,367.4 635.3,367.9 635.5,368.5 635.5,369.2 635.2,369.9 635.3,370.6 635.5,371.4 635.5,372.1 635.6,372.9 635.7,373.7 636.0,374.5 636.2,375.3 636.5,376.1 636.5,376.9 636.5,377.7 636.8,378.5 636.7,379.3 636.9,380.0 637.3,380.6 637.2,381.3 637.1,381.9 637.5,382.4 638.0,383.4 638.0,384.4 638.2,385.2 638.2,386.0 638.3,386.7 638.7,387.2 638.7,387.8 638.8,388.4 639.0,389.0 639.3,389.8 639.4,390.5 639.8,391.2 640.5,391.6 640.4,392.5 640.3,393.3 641.4,393.5 642.0,394.0 642.0,394.9 642.2,395.8 643.2,395.9 644.3,395.8 644.8,396.6 645.1,397.3 645.3,398.0 645.7,398.7 646.5,398.8 647.3,398.9 647.8,399.4 648.3,400.2 649.2,400.3 650.1,400.2 650.8,400.3 651.3,400.7 652.0,400.9 652.7,401.4 653.3,402.0 654.1,401.9 655.0,401.7 655.8,401.5 656.5,402.0 657.2,402.6 658.0,402.8 658.7,402.2 659.4,402.6 660.2,402.8 660.8,402.3 661.4,401.7 662.0,401.3 662.9,401.7 663.5,401.3 664.1,400.8 664.9,400.9 665.5,400.5 666.3,400.4 667.1,400.7 667.7,400.6 668.4,400.2 668.9,399.4 669.5,398.7 670.3,398.7 671.0,398.8 671.6,398.4 672.4,398.6 673.1,398.4 673.7,398.1 674.7,398.4 675.0,397.4 675.6,397.0 676.3,396.8 676.3,395.9 676.7,395.3 677.0,394.6 677.7,394.3 678.4,394.0 679.1,393.6 680.0,393.3 680.0,392.2 680.3,391.4 681.1,391.1 681.5,390.5 682.0,389.9 682.6,389.5 683.5,389.3 684.2,388.8 684.5,387.9 685.1,387.3 685.9,387.1 686.8,386.8 687.3,386.2 688.0,385.9 688.5,385.4 689.0,385.0 689.7,384.9 689.9,384.2 690.8,383.5 691.6,383.1 691.9,382.5 692.4,382.2 692.8,381.7 693.1,381.0 692.9,380.2 693.5,379.7 694.4,379.3 694.5,378.5 694.5,377.7 694.6,376.8 695.1,376.0 695.7,375.6 695.4,374.7 695.7,374.0 696.6,373.5 696.4,372.6 696.7,371.8 697.0,371.1 696.6,370.2 697.0,369.6 697.3,369.0 697.6,368.5 698.2,367.7 698.3,366.5 698.7,365.9 699.5,365.9 699.4,365.8 699.6,365.7 699.8,366.4 700.5,367.1 701.5,367.7 702.2,368.6 702.6,369.5 703.3,369.8 703.6,369.4 703.4,369.8 704.0,369.5 703.8,368.7 704.4,368.1 705.2,367.3 705.2,366.3 705.7,365.4 706.3,364.6 706.5,363.7 706.4,362.8 706.3,361.7 707.1,361.0 708.2,360.5 708.5,359.5 708.8,358.6 709.4,358.1 709.6,357.5 709.9,357.2 710.0,357.3 710.2,357.2 710.9,357.2 711.5,357.8 712.2,358.6 712.9,359.3 713.6,359.7 714.4,360.2 715.0,360.9 715.5,361.7 715.7,362.6 716.3,362.9 716.3,362.6 715.8,363.0 716.1,362.6 716.3,361.9 716.4,361.1 716.3,360.0 716.9,359.2 717.9,358.5 718.5,357.9 718.4,357.2 718.7,356.1 719.3,355.1 720.1,354.5 720.8,354.4 721.2,354.8 721.5,354.8 722.1,355.2 722.7,356.1 723.8,357.0 724.2,357.5 723.9,358.3 724.2,359.0 724.7,359.7 724.7,360.6 725.2,361.4 725.6,362.2 725.2,363.2 724.9,364.1 725.3,364.7 725.5,365.3 726.6,365.8 727.4,365.9 727.9,366.6 728.7,366.5 729.4,366.7 729.6,367.7 730.2,368.1 730.9,368.5 731.5,369.0 732.2,369.5 732.7,370.3 733.4,370.9 733.7,371.5 733.8,372.1" fill="none" stroke="#ff0000" stroke-width="6.5" stroke-linejoin="round" clip-path="url(#clip)"/>
<path d="M30.00,409.00 C37.17,409.00 61.75,409.20 73.00,409.00 C84.25,408.80 93.00,408.00 97.50,407.80 C102.00,407.60 97.98,408.00 100.00,407.80 C102.02,407.60 107.60,406.87 109.60,406.60 C111.60,406.33 109.57,406.62 112.00,406.20 C114.43,405.78 120.15,405.05 124.20,404.10 C128.25,403.15 133.08,401.57 136.30,400.50 C139.52,399.43 141.48,398.80 143.50,397.70 C145.52,396.60 146.78,395.05 148.40,393.90 C150.02,392.75 151.60,392.42 153.20,390.80 C154.80,389.18 156.70,385.90 158.00,384.20 C159.30,382.50 161.00,380.60 161.00,380.60 C161.00,380.60 163.37,383.95 165.30,385.40 C167.23,386.85 170.38,388.15 172.60,389.30 C174.82,390.45 176.80,391.80 178.60,392.30 C180.40,392.80 182.00,391.80 183.40,392.30 C184.80,392.80 185.58,394.10 187.00,395.30 C188.42,396.50 190.57,398.45 191.90,399.50 C193.23,400.55 193.65,401.08 195.00,401.60 C196.35,402.12 198.00,402.15 200.00,402.60 C202.00,403.05 203.83,403.77 207.00,404.30 C210.17,404.83 215.00,405.40 219.00,405.80 C223.00,406.20 226.93,406.75 231.00,406.70 C235.07,406.65 240.03,406.25 243.40,405.50 C246.77,404.75 251.20,402.20 251.20,402.20 C251.20,402.20 255.17,404.15 257.90,404.90 C260.63,405.65 263.98,406.28 267.60,406.70 C271.22,407.12 275.03,407.13 279.60,407.40 C284.17,407.67 277.10,408.08 295.00,408.30 C312.90,408.52 359.50,408.62 387.00,408.70 C414.50,408.78 444.50,408.98 460.00,408.80 C475.50,408.62 475.35,407.97 480.00,407.60 C484.65,407.23 485.28,407.12 487.90,406.60 C490.52,406.08 493.08,405.52 495.70,404.50 C498.32,403.48 501.58,401.53 503.60,400.50 C505.62,399.47 506.50,398.98 507.80,398.30 C509.10,397.62 511.40,396.40 511.40,396.40 C511.40,396.40 514.08,398.58 515.40,399.80 C516.72,401.02 517.87,402.83 519.30,403.70 C520.73,404.57 522.03,404.73 524.00,405.00 C525.97,405.27 529.00,405.58 531.10,405.30 C533.20,405.02 535.12,403.98 536.60,403.30 C538.08,402.62 538.95,401.85 540.00,401.20 C541.05,400.55 541.93,400.07 542.90,399.40 C543.87,398.73 544.83,397.42 545.80,397.20 C546.77,396.98 547.62,397.62 548.70,398.10 C549.78,398.58 551.08,400.18 552.30,400.10 C553.52,400.02 554.78,398.27 556.00,397.60 C557.22,396.93 558.40,396.47 559.60,396.10 C560.80,395.73 561.98,395.70 563.20,395.40 C564.42,395.10 565.80,394.45 566.90,394.30 C568.00,394.15 568.83,394.02 569.80,394.50 C570.77,394.98 571.62,396.42 572.70,397.20 C573.78,397.98 575.10,398.47 576.30,399.20 C577.50,399.93 578.70,401.12 579.90,401.60 C581.10,402.08 582.28,401.77 583.50,402.10 C584.72,402.43 585.98,403.60 587.20,403.60 C588.42,403.60 589.72,402.45 590.80,402.10 C591.88,401.75 592.83,402.02 593.70,401.50 C594.57,400.98 595.35,400.42 596.00,399.00 C596.65,397.58 597.17,395.17 597.60,393.00 C598.03,390.83 598.30,388.17 598.60,386.00 C598.90,383.83 599.40,380.00 599.40,380.00 C599.40,380.00 600.13,382.83 600.60,384.50 C601.07,386.17 601.60,388.48 602.20,390.00 C602.80,391.52 604.20,393.60 604.20,393.60 C604.20,393.60 605.33,390.43 605.80,387.00 C606.27,383.57 606.63,376.67 607.00,373.00 C607.37,369.33 607.52,367.18 608.00,365.00 C608.48,362.82 609.90,359.90 609.90,359.90 C609.90,359.90 611.02,359.97 611.50,360.40 C611.98,360.83 612.80,362.50 612.80,362.50 C612.80,362.50 613.50,367.22 613.80,370.00 C614.10,372.78 614.60,379.20 614.60,379.20 C614.60,379.20 615.73,377.53 616.30,376.00 C616.87,374.47 617.50,372.33 618.00,370.00 C618.50,367.67 619.08,366.17 619.30,362.00 C619.52,357.83 619.22,349.83 619.30,345.00 C619.38,340.17 619.53,335.87 619.80,333.00 C620.07,330.13 620.90,327.80 620.90,327.80 C620.90,327.80 622.78,329.63 623.60,330.30 C624.42,330.97 625.80,331.80 625.80,331.80 C625.80,331.80 626.53,334.30 626.80,336.00 C627.07,337.70 626.87,340.25 627.40,342.00 C627.93,343.75 629.27,345.25 630.00,346.50 C630.73,347.75 631.40,348.08 631.80,349.50 C632.20,350.92 632.12,353.17 632.40,355.00 C632.68,356.83 633.07,358.43 633.50,360.50 C633.93,362.57 634.35,363.75 635.00,367.40 C635.65,371.05 636.73,378.80 637.40,382.40 C638.07,386.00 638.37,387.13 639.00,389.00 C639.63,390.87 640.28,392.27 641.20,393.60 C642.12,394.93 643.03,395.85 644.50,397.00 C645.97,398.15 647.63,399.60 650.00,400.50 C652.37,401.40 655.78,402.50 658.70,402.40 C661.62,402.30 664.78,400.73 667.50,399.90 C670.22,399.07 672.72,398.85 675.00,397.40 C677.28,395.95 678.70,393.38 681.20,391.20 C683.70,389.02 688.03,386.00 690.00,384.30 C691.97,382.60 692.17,382.38 693.00,381.00 C693.83,379.62 694.25,378.08 695.00,376.00 C695.75,373.92 696.77,370.25 697.50,368.50 C698.23,366.75 699.40,365.50 699.40,365.50 C699.40,365.50 703.50,370.00 703.50,370.00 C703.50,370.00 704.92,365.65 706.00,363.50 C707.08,361.35 710.00,357.10 710.00,357.10 C710.00,357.10 712.47,358.77 713.50,359.80 C714.53,360.83 716.20,363.30 716.20,363.30 C716.20,363.30 717.27,358.45 718.10,357.00 C718.93,355.55 721.20,354.60 721.20,354.60 C721.20,354.60 722.90,355.27 723.70,357.00 C724.50,358.73 725.17,363.42 726.00,365.00 C726.83,366.58 727.78,365.83 728.70,366.50 C729.62,367.17 730.62,368.08 731.50,369.00 C732.38,369.92 733.58,371.50 734.00,372.00" fill="none" stroke="#ff0000" stroke-width="7.4" stroke-linejoin="round" clip-path="url(#clipfp)"/>
<polygon points="619.3,478.4 619.3,464 620.5,461 626.5,461 627.2,466 627.2,470 629.5,472 629.5,478.4" fill="#848400"/>
<polyline points="30.0,539.1 30.4,539.0 30.8,539.0 31.2,539.0 31.6,538.9 32.1,539.0 32.6,539.3 33.1,539.5 33.6,539.4 34.2,539.2 34.8,539.1 35.4,539.1 36.0,539.0 36.7,539.0 37.3,539.0 38.0,539.3 38.7,539.5 39.4,539.4 40.1,539.4 40.8,539.2 41.6,539.1 42.3,539.2 43.1,539.4 43.9,539.4 44.7,539.5 45.5,539.2 46.3,539.1 47.1,539.3 47.9,539.3 48.7,539.1 49.6,539.1 50.4,539.1 51.2,539.3 52.1,539.5 52.9,539.4 53.7,539.2 54.6,539.3 55.4,539.4 56.2,539.4 57.1,539.5 57.9,539.4 58.7,539.2 59.5,539.3 60.3,539.3 61.2,539.1 62.0,539.1 62.7,539.3 63.5,539.2 64.3,538.9 65.0,539.1 65.8,539.2 66.5,539.2 67.2,539.3 68.0,539.2 68.6,539.4 69.3,539.3 70.0,539.1 70.6,539.1 71.2,539.2 71.9,539.2 72.4,539.1 73.0,539.2 74.0,539.2 74.9,539.1 75.8,539.3 76.8,539.1 77.7,538.8 78.6,538.8 79.4,539.1 80.3,539.2 81.2,539.0 82.0,538.8 82.8,538.8 83.6,538.8 84.4,538.7 85.2,538.8 86.0,539.1 86.7,539.1 87.4,539.0 88.1,539.0 88.8,538.7 89.5,538.4 90.2,538.7 90.8,538.9 91.4,538.7 92.1,538.7 92.7,538.7 93.2,538.7 93.8,538.5 94.3,538.3 94.8,538.3 95.3,538.3 95.8,538.2 96.3,538.5 96.7,538.4 97.1,538.1 97.5,538.0 99.7,537.9 99.4,538.1 100.0,538.1 100.5,537.8 101.1,537.7 101.9,537.8 102.7,537.9 103.5,537.5 104.3,537.3 105.2,537.2 106.1,537.2 106.9,537.3 107.7,537.2 108.4,536.9 109.1,537.0 109.6,537.0 110.6,537.1 110.7,537.0 112.0,536.7 112.5,536.8 113.0,536.7 113.6,536.7 114.2,536.7 114.9,536.3 115.6,536.2 116.3,536.0 117.1,536.0 117.9,535.9 118.7,536.0 119.5,536.1 120.3,535.8 121.1,535.4 121.9,535.2 122.7,535.1 123.4,535.0 124.2,534.8 124.9,534.9 125.7,534.7 126.3,534.2 127.2,534.3 128.0,534.3 128.7,534.1 129.5,533.8 130.2,533.6 131.0,533.5 131.7,533.2 132.4,533.0 133.1,532.7 133.8,532.3 134.4,532.0 135.1,532.1 135.8,532.1 136.4,532.0 137.3,531.5 138.1,531.2 138.9,531.1 139.7,530.9 140.4,530.7 141.1,530.4 141.7,530.1 142.3,530.0 142.9,529.6 143.5,529.4 144.4,529.2 144.9,528.5 145.5,528.0 146.3,527.8 146.8,527.2 147.2,526.5 147.8,526.1 148.4,525.7 149.1,525.4 149.9,525.2 150.4,524.7 151.0,524.3 151.8,524.2 152.6,523.9 153.3,523.4 153.8,523.0 154.1,522.4 154.3,521.7 155.0,521.2 155.4,520.6 155.9,519.9 156.3,519.3 156.7,518.7 157.4,518.3 157.8,517.8 158.1,517.3 158.9,516.6 159.6,515.8 160.4,515.1 161.1,514.6 161.6,514.4 161.7,514.4 161.8,514.4 162.2,514.7 162.9,515.1 163.8,515.5 164.5,516.2 165.3,516.8 165.8,517.1 166.4,517.4 167.1,517.4 167.8,517.6 168.4,518.0 169.1,518.3 169.9,518.3 170.6,518.6 171.2,519.1 172.0,519.1 172.6,519.2 173.4,519.5 174.2,519.9 175.0,520.1 175.8,520.2 176.5,520.5 177.2,520.9 177.9,521.0 178.6,520.8 179.5,521.1 180.3,521.3 181.2,521.2 181.9,521.0 182.7,521.1 183.3,521.3 184.1,521.3 184.7,521.7 185.2,522.1 185.9,522.4 186.3,523.0 186.9,523.6 187.5,524.0 188.2,524.4 188.8,524.9 189.5,525.4 190.3,525.7 190.8,526.3 191.4,526.7 191.9,527.1 192.7,527.6 193.4,527.9 194.2,527.7 195.1,527.8 195.6,528.2 196.2,528.6 196.9,528.9 197.6,529.3 198.4,529.4 199.2,529.6 200.0,530.1 200.6,530.3 201.2,530.4 201.8,530.7 202.4,530.8 203.0,530.7 203.7,530.8 204.5,530.8 205.2,531.0 206.1,531.2 207.0,531.3 207.6,531.4 208.2,531.5 208.8,531.8 209.4,531.9 210.2,531.9 210.9,531.9 211.6,532.2 212.3,532.4 213.1,532.5 213.8,532.6 214.6,532.6 215.4,532.8 216.1,533.2 216.8,533.3 217.6,533.5 218.3,533.7 219.0,533.7 219.7,533.8 220.4,533.9 221.1,533.9 221.8,533.9 222.5,534.3 223.2,534.4 223.9,534.3 224.6,534.5 225.3,534.4 226.1,534.4 226.8,534.4 227.4,534.8 228.1,535.1 228.8,535.1 229.6,535.1 230.3,535.2 231.0,534.9 231.7,534.8 232.5,534.9 233.2,534.9 234.0,535.0 234.8,535.0 235.5,535.0 236.3,534.7 237.1,534.5 237.9,534.7 238.6,534.6 239.4,534.5 240.1,534.4 240.8,534.2 241.5,534.1 242.2,534.1 242.8,533.8 243.4,533.9 244.3,533.7 245.1,533.2 246.0,532.7 246.9,532.4 247.8,532.1 248.7,532.0 249.4,531.7 250.0,531.2 250.4,530.7 250.9,530.7 251.1,530.5 251.2,530.3 251.4,530.3 251.8,530.3 252.4,530.7 253.1,531.1 253.9,531.4 255.0,531.5 255.9,532.0 256.9,532.3 257.9,532.3 258.6,532.3 259.1,532.8 259.6,533.2 260.3,533.4 261.0,533.5 261.7,533.5 262.5,533.5 263.2,533.7 263.9,533.9 264.6,534.3 265.3,534.7 266.0,534.8 266.8,534.7 267.6,534.7 268.3,534.8 268.9,535.2 269.5,535.2 270.2,535.3 270.8,535.6 271.5,535.6 272.2,535.7 272.9,535.7 273.6,535.6 274.3,535.7 275.0,535.6 275.8,535.6 276.5,535.7 277.3,535.8 278.0,535.8 278.8,536.2 279.6,536.3 280.1,536.3 280.6,536.5 280.9,536.5 281.1,536.5 281.3,536.6 281.4,536.7 281.6,536.6 281.7,536.5 281.9,536.5 282.0,536.6 282.3,536.6 282.6,536.5 283.1,536.4 283.6,536.5 284.3,536.7 285.2,536.4 286.2,536.3 287.5,536.7 289.0,536.7 290.7,536.6 292.7,536.8 295.0,537.0 295.4,536.9 295.8,536.7 296.3,536.8 296.7,536.6 297.2,536.8 297.6,536.8 298.1,536.9 298.6,536.9 299.1,536.6 299.6,536.9 300.1,537.1 300.6,536.9 301.1,536.8 301.7,536.9 302.2,537.0 302.8,536.9 303.3,537.0 303.9,537.3 304.4,537.2 305.0,537.2 305.6,537.3 306.2,537.1 306.8,537.1 307.4,537.3 308.0,537.2 308.7,537.0 309.3,537.0 309.9,537.3 310.6,537.2 311.2,537.1 311.9,537.3 312.6,537.3 313.2,537.0 313.9,537.1 314.6,537.1 315.3,537.2 316.0,537.4 316.7,537.2 317.4,537.3 318.1,537.4 318.8,537.2 319.5,537.3 320.2,537.5 320.9,537.6 321.7,537.6 322.4,537.5 323.1,537.5 323.9,537.5 324.6,537.4 325.4,537.6 326.1,537.5 326.9,537.2 327.7,537.4 328.4,537.5 329.2,537.5 330.0,537.5 330.7,537.4 331.5,537.3 332.3,537.3 333.1,537.5 333.8,537.8 334.6,537.8 335.4,537.5 336.2,537.6 337.0,537.9 337.8,537.7 338.6,537.4 339.4,537.6 340.2,537.8 341.0,537.7 341.8,537.6 342.6,537.6 343.4,537.6 344.2,537.5 345.0,537.6 345.8,537.6 346.6,537.8 347.4,538.0 348.2,538.0 349.0,537.8 349.8,537.7 350.6,537.8 351.4,537.7 352.2,537.7 353.0,538.0 353.8,538.1 354.6,538.1 355.4,538.0 356.2,537.9 357.0,538.1 357.8,538.1 358.6,538.0 359.4,537.8 360.2,537.7 361.0,538.0 361.8,538.3 362.6,538.1 363.3,538.1 364.1,538.1 364.9,538.1 365.7,538.2 366.4,538.2 367.2,538.1 368.0,538.1 368.7,538.0 369.5,538.0 370.3,537.9 371.0,538.0 371.8,538.2 372.5,538.2 373.2,538.2 374.0,538.2 374.7,538.2 375.4,538.3 376.2,538.0 376.9,538.0 377.6,538.3 378.3,538.5 379.0,538.5 379.7,538.4 380.4,538.2 381.1,538.1 381.8,538.3 382.4,538.5 383.1,538.4 383.8,538.1 384.4,538.4 385.1,538.4 385.7,538.4 386.4,538.5 387.0,538.4 387.8,538.5 388.6,538.6 389.4,538.4 390.2,538.4 391.0,538.5 391.8,538.4 392.6,538.4 393.4,538.4 394.2,538.5 395.0,538.3 395.8,538.2 396.6,538.3 397.4,538.4 398.2,538.7 399.0,538.8 399.8,538.6 400.6,538.7 401.4,538.6 402.2,538.4 403.0,538.7 403.8,538.9 404.6,538.8 405.4,538.9 406.2,538.7 407.0,538.6 407.8,538.9 408.6,538.8 409.4,538.9 410.2,538.7 411.0,538.5 411.8,538.5 412.6,538.6 413.4,538.7 414.2,538.8 415.0,538.7 415.8,538.8 416.5,539.0 417.3,539.0 418.1,538.7 418.9,538.5 419.7,538.6 420.4,538.6 421.2,538.7 422.0,538.7 422.7,538.8 423.5,538.8 424.2,538.7 425.0,538.9 425.8,539.1 426.5,538.9 427.3,538.7 428.0,539.0 428.7,538.9 429.5,538.6 430.2,538.6 430.9,538.9 431.7,539.1 432.4,539.1 433.1,539.1 433.8,538.8 434.5,538.7 435.2,538.9 435.9,539.0 436.6,538.8 437.3,538.8 438.0,538.9 438.7,538.9 439.4,538.9 440.1,538.8 440.7,538.7 441.4,538.9 442.1,539.2 442.7,539.0 443.4,538.8 444.0,538.8 444.7,538.9 445.3,539.1 445.9,539.1 446.5,539.2 447.2,539.2 447.8,538.9 448.4,538.9 449.0,539.1 449.6,539.1 450.2,539.1 450.7,538.9 451.3,538.8 451.9,539.1 452.4,539.0 453.0,538.7 453.5,538.7 454.1,538.8 454.6,538.9 455.1,538.9 455.7,539.0 456.2,538.9 456.7,538.8 457.2,539.0 457.7,539.1 458.1,539.2 458.6,539.3 459.1,539.1 459.5,538.9 460.0,539.0 461.6,539.0 463.1,538.9 464.5,539.0 465.7,539.0 466.9,538.8 468.0,538.7 469.0,538.8 469.9,539.0 470.8,539.0 471.6,538.8 472.3,538.6 472.9,538.8 473.5,538.5 474.1,538.5 474.6,538.8 475.1,538.4 475.5,538.4 476.0,538.6 476.3,538.4 476.7,538.3 477.1,538.1 477.4,537.9 477.8,538.0 478.3,538.2 478.6,538.1 479.1,537.9 479.5,537.9 480.0,537.9 481.2,538.0 482.2,538.0 483.0,537.7 483.8,537.5 484.4,537.3 485.0,537.3 485.6,537.5 486.1,537.5 486.6,537.1 487.2,536.8 487.9,536.6 488.5,536.4 489.2,536.5 489.9,536.2 490.5,536.0 491.3,536.0 491.9,535.7 492.5,535.2 493.1,534.9 493.9,534.8 494.5,534.5 495.0,533.9 495.5,533.3 496.2,533.1 496.9,532.9 497.6,532.5 498.2,532.0 498.9,531.7 499.6,531.5 500.3,531.1 500.9,530.6 501.5,530.2 502.1,529.9 502.5,529.4 503.0,529.0 503.5,528.7 504.3,528.1 505.1,527.8 505.7,527.5 506.2,527.0 506.7,526.6 507.2,526.3 507.7,525.9 508.5,525.4 509.2,524.7 510.1,524.2 510.8,523.7 511.2,523.2 511.4,523.2 511.5,523.2 511.9,523.5 512.4,523.9 512.9,524.6 513.5,525.3 514.2,526.0 514.9,526.6 515.4,527.2 515.9,527.7 516.5,528.3 516.8,529.0 517.3,529.6 517.7,530.2 518.2,530.8 518.8,531.2 519.3,531.7 519.8,532.3 520.4,532.7 521.0,533.1 521.7,533.3 522.5,533.4 523.2,533.6 524.0,533.8 524.6,533.9 525.3,534.1 526.0,534.2 526.8,534.3 527.5,534.5 528.3,534.5 529.0,534.7 529.7,534.7 530.4,534.9 531.2,535.3 531.9,534.7 532.7,534.5 533.4,534.2 533.8,533.3 534.8,533.7 535.4,533.3 535.6,532.2 536.5,532.6 537.4,532.2 538.0,531.6 538.9,531.6 539.3,530.8 539.7,530.1 540.7,530.2 541.4,529.8 541.6,528.9 542.1,528.4 543.0,528.2 543.4,527.6 543.4,526.6 544.3,526.2 544.8,525.6 544.8,524.6 545.6,524.1 546.5,524.9 547.0,525.5 547.8,525.8 548.6,526.3 549.1,526.9 549.9,527.2 551.0,527.2 551.6,527.8 552.3,527.6 552.9,527.2 553.8,527.5 554.7,527.2 555.3,526.6 556.2,526.4 556.9,526.0 557.5,525.5 558.2,525.1 558.7,524.2 559.4,523.9 560.2,523.7 560.9,523.2 561.6,523.2 562.3,523.1 563.1,523.0 564.0,523.3 564.9,523.1 565.7,522.9 566.3,522.2 566.9,521.8 567.7,522.2 568.4,521.9 569.0,522.0 569.8,522.0 570.4,522.4 570.4,523.4 570.9,524.1 571.6,524.7 572.4,525.1 573.3,525.3 574.0,525.7 574.6,526.4 575.4,526.7 576.2,526.9 576.6,527.6 577.4,527.9 578.3,528.1 579.1,528.4 579.3,529.2 579.7,530.1 580.5,530.3 581.4,530.2 582.2,529.9 582.9,530.3 583.4,531.1 584.1,531.3 585.1,531.3 585.8,531.7 586.4,532.4 587.2,532.3 587.9,532.2 588.6,531.9 589.3,531.5 590.3,531.8 590.8,531.4 591.6,531.3 592.3,531.2 593.0,530.7 593.5,530.6 594.1,530.3 594.9,530.1 595.7,529.6 596.2,528.6 596.8,528.1 597.1,527.5 597.2,526.7 597.5,525.9 597.9,525.2 597.8,524.3 597.5,523.3 597.5,522.5 598.0,521.9 598.3,521.2 598.6,520.5 598.6,519.8 598.5,519.1 598.2,518.3 598.2,517.6 598.3,516.9 598.4,516.2 598.4,515.5 598.0,514.6 598.8,513.8 599.7,512.9 599.2,511.9 598.6,510.9 599.1,510.2 599.9,509.6 599.3,509.1 599.4,509.0 598.9,509.4 599.2,509.9 600.0,510.6 600.7,511.4 601.1,512.4 601.0,513.4 600.6,514.2 600.6,514.9 601.3,515.5 601.3,516.3 601.7,517.0 602.0,517.7 602.2,518.3 602.9,518.7 603.3,519.6 603.2,520.9 603.7,521.7 604.6,521.9 604.4,522.1 604.1,522.3 604.3,522.1 604.6,521.6 605.0,521.0 605.5,520.3 605.4,519.3 605.4,518.2 605.4,517.1 605.2,515.9 605.3,515.4 605.9,514.9 606.2,514.3 606.1,513.6 606.7,512.9 606.4,512.2 605.9,511.4 605.8,510.6 606.1,509.9 606.3,509.1 606.0,508.3 606.5,507.5 607.1,506.8 607.1,506.0 607.4,505.3 607.3,504.6 607.3,503.9 607.4,503.2 607.1,502.6 607.2,502.0 607.8,501.1 607.2,500.1 606.6,499.2 606.7,498.5 607.1,497.8 607.8,497.1 607.9,496.5 608.0,495.9 608.0,495.2 607.8,494.6 607.8,494.0 608.2,493.0 608.5,492.0 608.3,490.9 608.8,490.1 609.6,489.6 610.2,489.3 609.9,489.2 610.5,489.3 611.1,490.0 612.1,490.2 612.6,491.0 612.2,491.8 612.0,491.8 612.3,492.1 612.9,492.7 613.1,493.4 613.0,494.3 613.1,495.3 613.6,496.3 613.5,497.3 613.3,498.2 614.1,499.0 614.5,499.8 614.5,500.7 614.5,501.7 614.6,502.7 614.6,503.7 614.6,504.6 614.4,505.4 614.0,506.0 614.6,506.4 614.6,506.5 615.0,506.5 614.9,505.7 615.6,505.0 615.8,503.9 615.8,502.8 616.5,502.4 616.5,501.7 616.7,500.9 617.3,500.3 617.5,499.5 617.6,498.7 617.8,497.9 618.1,497.0 618.5,496.5 618.3,495.8 618.4,495.3 618.6,494.7 618.4,494.1 618.5,493.4 618.9,492.8 619.1,492.0 619.1,491.2 619.1,490.1 619.0,489.0 619.1,488.5 619.3,487.9 619.5,487.3 619.5,486.7 619.3,486.0 619.5,485.3 619.6,484.6 619.6,483.8 619.6,483.0 619.5,482.3 619.3,481.5 619.1,480.7 619.3,479.8 619.5,479.0 619.6,478.2 619.7,477.4 619.5,476.6 619.3,475.9 619.5,475.1 619.3,474.3 619.1,473.6 619.3,472.9 619.3,472.3 619.4,471.6 619.2,471.1 619.2,470.5 619.2,470.0 619.2,468.8 619.2,467.7 619.2,466.9 619.4,466.1 619.5,465.5 619.4,464.9 619.4,464.4 619.7,463.9 619.7,463.4 619.6,463.0 620.1,461.7 620.8,461.1 621.0,460.7 621.4,460.7 622.3,460.7 623.5,460.8 624.4,460.8 624.8,460.8 625.7,461.1 626.7,461.3 626.7,461.7 626.7,462.4 626.7,463.3 627.0,464.2 627.4,465.0 627.2,465.8 627.0,466.6 627.2,467.4 627.2,468.2 627.4,469.0 627.6,469.7 628.0,470.3 628.6,470.8 629.1,471.3 629.4,472.1 629.8,472.7 630.4,473.0 630.9,473.5 631.5,473.9 632.1,474.5 632.2,475.1 632.4,475.8 632.6,476.6 632.6,477.4 632.8,478.3 632.7,479.2 632.8,480.0 633.1,480.7 633.2,481.5 633.0,482.3 633.4,483.0 633.5,483.7 633.5,484.5 633.6,485.3 633.4,486.0 633.8,486.7 634.1,487.4 634.1,488.1 633.9,488.8 633.9,489.5 634.4,490.1 634.8,490.8 634.8,491.6 634.6,492.2 634.6,492.9 634.8,493.5 634.8,494.1 634.8,494.8 634.9,495.5 635.1,496.2 635.5,496.9 635.6,497.7 635.5,498.6 635.5,499.2 635.8,499.8 636.3,500.5 636.3,501.2 636.3,502.0 636.4,502.7 636.6,503.5 636.6,504.3 636.6,505.1 636.9,505.8 637.1,506.6 637.1,507.3 637.2,508.0 637.2,508.7 637.2,509.3 637.3,509.9 637.6,510.8 637.9,511.6 637.9,512.4 638.0,513.1 638.3,513.6 638.3,514.3 638.6,514.8 638.8,515.4 638.9,516.0 639.3,516.8 639.7,517.5 640.0,518.3 640.2,519.1 640.4,519.9 640.9,520.5 641.1,521.2 641.3,522.0 641.8,522.6 642.6,522.7 643.2,523.1 643.6,523.8 644.2,524.5 644.9,524.6 645.7,524.7 646.1,525.3 646.9,525.5 647.7,525.5 648.4,526.1 649.1,526.5 649.9,527.0 650.6,527.2 651.4,526.9 652.0,527.4 652.6,528.0 653.2,528.6 653.9,529.1 654.8,528.9 655.7,528.6 656.4,529.0 657.2,529.2 658.0,529.3 658.7,529.3 659.4,529.6 660.2,530.0 660.9,529.9 661.7,529.7 662.4,529.7 663.1,529.2 663.9,529.1 664.6,528.9 665.2,528.0 665.9,528.1 666.7,527.9 667.3,527.5 668.1,527.7 668.8,527.3 669.4,526.9 670.2,526.8 671.1,526.9 671.7,526.3 672.2,525.7 673.0,525.6 673.5,525.0 674.1,524.5 674.9,524.3 675.5,523.9 676.2,523.6 676.9,523.3 677.4,522.8 677.8,522.2 678.4,521.8 679.0,521.2 679.1,520.4 679.7,520.0 680.4,519.6 681.0,519.1 681.3,518.4 681.6,517.7 682.3,517.3 682.9,516.9 683.8,516.8 684.4,516.3 684.9,515.7 685.7,515.4 686.2,514.7 686.8,514.3 687.6,514.0 688.0,513.3 688.4,512.7 688.6,511.9 689.1,511.5 689.8,511.5 690.6,510.8 691.4,510.4 691.8,509.8 692.1,509.2 693.0,508.9 693.5,508.3 693.8,507.6 694.2,507.0 694.5,506.3 694.1,505.4 694.0,504.6 694.5,503.8 694.8,502.9 695.4,502.4 695.8,501.8 695.6,500.9 695.4,500.0 695.5,499.1 696.2,498.4 697.1,497.8 696.8,496.9 696.4,496.0 696.7,495.4 697.6,495.0 698.0,493.9 698.2,492.8 699.3,492.5 699.3,491.8 699.4,491.5 699.5,491.8 699.9,492.3 700.4,493.1 701.4,493.6 701.8,494.8 702.2,495.8 702.6,496.6 702.9,497.1 703.4,497.5 704.1,497.0 703.4,496.4 703.1,495.6 704.2,495.1 705.1,494.4 705.3,493.4 705.8,492.5 705.8,491.4 706.1,490.5 706.6,490.0 706.4,489.0 706.8,488.1 707.9,487.6 708.4,486.7 708.7,485.8 708.7,484.8 708.8,483.9 709.5,483.5 709.8,483.0 710.3,482.9 710.0,482.9 710.1,482.8 710.5,483.1 711.0,483.7 711.7,484.3 712.5,484.8 713.4,485.2 713.6,486.1 714.1,486.8 714.8,487.6 715.3,488.5 715.6,489.4 715.9,489.9 716.3,489.7 716.1,489.8 716.6,489.5 717.2,488.9 717.0,487.9 716.9,486.9 717.7,486.1 718.2,485.4 718.1,484.4 718.3,483.6 719.7,483.2 720.8,483.5 721.1,483.6 721.5,483.2 722.3,483.4 723.1,484.0 723.9,484.9 724.5,485.9 725.0,486.4 724.9,487.1 725.1,487.8 725.0,488.6 725.2,489.4 725.8,490.1 725.4,491.0 725.6,491.7 726.1,492.3 725.9,493.0 725.9,493.7 726.5,494.4 727.1,495.1 727.9,495.5 728.8,495.0 729.6,494.8 730.1,495.4 730.8,495.9 730.9,496.7 731.2,497.4 731.6,498.2 732.3,498.7 733.1,499.3 733.2,500.3 733.4,501.2 733.8,501.6" fill="none" stroke="#848400" stroke-width="6.5" stroke-linejoin="round" clip-path="url(#clip)"/>
<path d="M30.00,539.20 C37.17,539.20 61.75,539.35 73.00,539.20 C84.25,539.05 93.00,538.50 97.50,538.30 C102.00,538.10 97.98,538.20 100.00,538.00 C102.02,537.80 107.60,537.30 109.60,537.10 C111.60,536.90 109.57,537.15 112.00,536.80 C114.43,536.45 120.15,535.85 124.20,535.00 C128.25,534.15 133.08,532.65 136.30,531.70 C139.52,530.75 141.48,530.30 143.50,529.30 C145.52,528.30 146.78,526.70 148.40,525.70 C150.02,524.70 151.60,524.72 153.20,523.30 C154.80,521.88 156.58,518.72 158.00,517.20 C159.42,515.68 161.70,514.20 161.70,514.20 C161.70,514.20 163.48,515.95 165.30,516.80 C167.12,517.65 170.38,518.58 172.60,519.30 C174.82,520.02 176.80,520.80 178.60,521.10 C180.40,521.40 182.00,520.70 183.40,521.10 C184.80,521.50 185.58,522.50 187.00,523.50 C188.42,524.50 190.57,526.35 191.90,527.10 C193.23,527.85 193.65,527.50 195.00,528.00 C196.35,528.50 198.00,529.57 200.00,530.10 C202.00,530.63 203.83,530.60 207.00,531.20 C210.17,531.80 215.00,533.08 219.00,533.70 C223.00,534.32 226.93,534.90 231.00,534.90 C235.07,534.90 240.03,534.45 243.40,533.70 C246.77,532.95 251.20,530.40 251.20,530.40 C251.20,530.40 255.17,531.65 257.90,532.40 C260.63,533.15 263.98,534.27 267.60,534.90 C271.22,535.53 275.03,535.88 279.60,536.20 C284.17,536.52 277.10,536.43 295.00,536.80 C312.90,537.17 359.50,538.03 387.00,538.40 C414.50,538.77 444.50,539.08 460.00,539.00 C475.50,538.92 475.35,538.27 480.00,537.90 C484.65,537.53 485.28,537.52 487.90,536.80 C490.52,536.08 493.08,534.93 495.70,533.60 C498.32,532.27 501.58,530.07 503.60,528.80 C505.62,527.53 506.50,526.95 507.80,526.00 C509.10,525.05 511.40,523.10 511.40,523.10 C511.40,523.10 514.08,525.77 515.40,527.20 C516.72,528.63 517.87,530.58 519.30,531.70 C520.73,532.82 522.03,533.40 524.00,533.90 C525.97,534.40 529.00,534.90 531.10,534.70 C533.20,534.50 535.12,533.40 536.60,532.70 C538.08,532.00 538.95,531.27 540.00,530.50 C541.05,529.73 541.93,529.03 542.90,528.10 C543.87,527.17 544.83,525.23 545.80,524.90 C546.77,524.57 547.62,525.60 548.70,526.10 C549.78,526.60 551.08,527.90 552.30,527.90 C553.52,527.90 554.78,526.70 556.00,526.10 C557.22,525.50 558.40,524.75 559.60,524.30 C560.80,523.85 561.98,523.82 563.20,523.40 C564.42,522.98 565.80,522.03 566.90,521.80 C568.00,521.57 568.83,521.52 569.80,522.00 C570.77,522.48 571.62,523.90 572.70,524.70 C573.78,525.50 575.10,525.97 576.30,526.80 C577.50,527.63 578.70,529.03 579.90,529.70 C581.10,530.37 582.28,530.37 583.50,530.80 C584.72,531.23 585.98,532.23 587.20,532.30 C588.42,532.37 589.72,531.42 590.80,531.20 C591.88,530.98 592.83,531.45 593.70,531.00 C594.57,530.55 595.35,529.92 596.00,528.50 C596.65,527.08 597.17,524.67 597.60,522.50 C598.03,520.33 598.30,517.75 598.60,515.50 C598.90,513.25 599.40,509.00 599.40,509.00 C599.40,509.00 600.13,511.83 600.60,513.50 C601.07,515.17 601.60,517.50 602.20,519.00 C602.80,520.50 604.20,522.50 604.20,522.50 C604.20,522.50 605.33,519.42 605.80,516.00 C606.27,512.58 606.63,505.67 607.00,502.00 C607.37,498.33 607.52,496.17 608.00,494.00 C608.48,491.83 609.90,489.00 609.90,489.00 C609.90,489.00 611.02,489.08 611.50,489.50 C611.98,489.92 612.80,491.50 612.80,491.50 C612.80,491.50 613.50,496.50 613.80,499.00 C614.10,501.50 614.60,506.50 614.60,506.50 C614.60,506.50 615.73,504.58 616.30,503.00 C616.87,501.42 617.50,499.33 618.00,497.00 C618.50,494.67 619.08,493.50 619.30,489.00 C619.52,484.50 619.22,474.33 619.30,470.00 C619.38,465.67 619.52,464.53 619.80,463.00 C620.08,461.47 621.00,460.80 621.00,460.80 C621.00,460.80 624.80,460.80 624.80,460.80 C624.80,460.80 626.60,461.50 626.60,461.50 C626.60,461.50 626.98,463.75 627.10,465.00 C627.22,466.25 626.90,467.83 627.30,469.00 C627.70,470.17 628.72,471.08 629.50,472.00 C630.28,472.92 631.43,473.17 632.00,474.50 C632.57,475.83 632.62,478.08 632.90,480.00 C633.18,481.92 633.42,484.07 633.70,486.00 C633.98,487.93 634.27,489.50 634.60,491.60 C634.93,493.70 635.23,495.55 635.70,498.60 C636.17,501.65 636.85,507.00 637.40,509.90 C637.95,512.80 638.37,514.13 639.00,516.00 C639.63,517.87 640.28,519.77 641.20,521.10 C642.12,522.43 643.03,523.05 644.50,524.00 C645.97,524.95 647.63,525.92 650.00,526.80 C652.37,527.68 655.78,529.10 658.70,529.30 C661.62,529.50 664.58,528.93 667.50,528.00 C670.42,527.07 673.72,525.47 676.20,523.70 C678.68,521.93 680.10,519.40 682.40,517.40 C684.70,515.40 688.23,513.27 690.00,511.70 C691.77,510.13 692.17,509.45 693.00,508.00 C693.83,506.55 694.25,505.17 695.00,503.00 C695.75,500.83 696.77,496.90 697.50,495.00 C698.23,493.10 699.40,491.60 699.40,491.60 C699.40,491.60 703.50,497.00 703.50,497.00 C703.50,497.00 704.92,492.90 706.00,490.50 C707.08,488.10 710.00,482.60 710.00,482.60 C710.00,482.60 712.67,484.77 713.70,486.00 C714.73,487.23 716.20,490.00 716.20,490.00 C716.20,490.00 717.87,485.23 718.70,484.10 C719.53,482.97 721.20,483.20 721.20,483.20 C721.20,483.20 723.47,484.28 724.30,486.00 C725.13,487.72 725.25,491.92 726.20,493.50 C727.15,495.08 729.07,494.75 730.00,495.50 C730.93,496.25 731.13,497.00 731.80,498.00 C732.47,499.00 733.63,500.92 734.00,501.50" fill="none" stroke="#848400" stroke-width="7.4" stroke-linejoin="round" clip-path="url(#clipfp)"/>
<line x1="479" y1="27.1" x2="481" y2="553" stroke="#000" stroke-width="2.5" stroke-dasharray="11.5 11.6"/>
<line x1="523.2" y1="26" x2="525.5" y2="549" stroke="#000" stroke-width="2.3" stroke-dasharray="11.5 11.6"/>
<text x="8.4" y="579.6" font-size="24" textLength="42.5" lengthAdjust="spacingAndGlyphs">4000</text>
<text x="108.9" y="579.6" font-size="24" textLength="42.5" lengthAdjust="spacingAndGlyphs">3500</text>
<text x="209.3" y="579.6" font-size="24" textLength="42.5" lengthAdjust="spacingAndGlyphs">3000</text>
<text x="309.7" y="579.6" font-size="24" textLength="42.5" lengthAdjust="spacingAndGlyphs">2500</text>
<text x="410.2" y="579.6" font-size="24" textLength="42.5" lengthAdjust="spacingAndGlyphs">2000</text>
<text x="510.6" y="579.6" font-size="24" textLength="42.5" lengthAdjust="spacingAndGlyphs">1500</text>
<text x="611.0" y="579.6" font-size="24" textLength="42.5" lengthAdjust="spacingAndGlyphs">1000</text>
<text x="716.8" y="579.6" font-size="24" textLength="31.9" lengthAdjust="spacingAndGlyphs">500</text>
<text x="605.3" y="59.4" font-size="26.5" textLength="215.5" lengthAdjust="spacingAndGlyphs">Non-oxidized BNC</text>
<text x="614.6" y="190.4" font-size="26.5" textLength="116.5" lengthAdjust="spacingAndGlyphs">BNC 400C</text>
<text x="614.6" y="318.6" font-size="26.5" textLength="116.5" lengthAdjust="spacingAndGlyphs">BNC 700C</text>
<text x="614.6" y="447" font-size="26.5" textLength="130" lengthAdjust="spacingAndGlyphs">BNC 1200C</text>
<text x="464.5" y="23.7" font-size="21.5" textLength="72" lengthAdjust="spacingAndGlyphs">-COOH</text>
<text x="270.8" y="631" font-size="26.5" textLength="152" lengthAdjust="spacingAndGlyphs">Wavenumber</text>
<text x="429" y="631" font-size="26.5" textLength="41.5" lengthAdjust="spacingAndGlyphs">(cm</text>
<text x="471" y="618.4" font-size="14">-1</text>
<text x="483.5" y="631" font-size="26.5">)</text>
</svg>
</body></html>
